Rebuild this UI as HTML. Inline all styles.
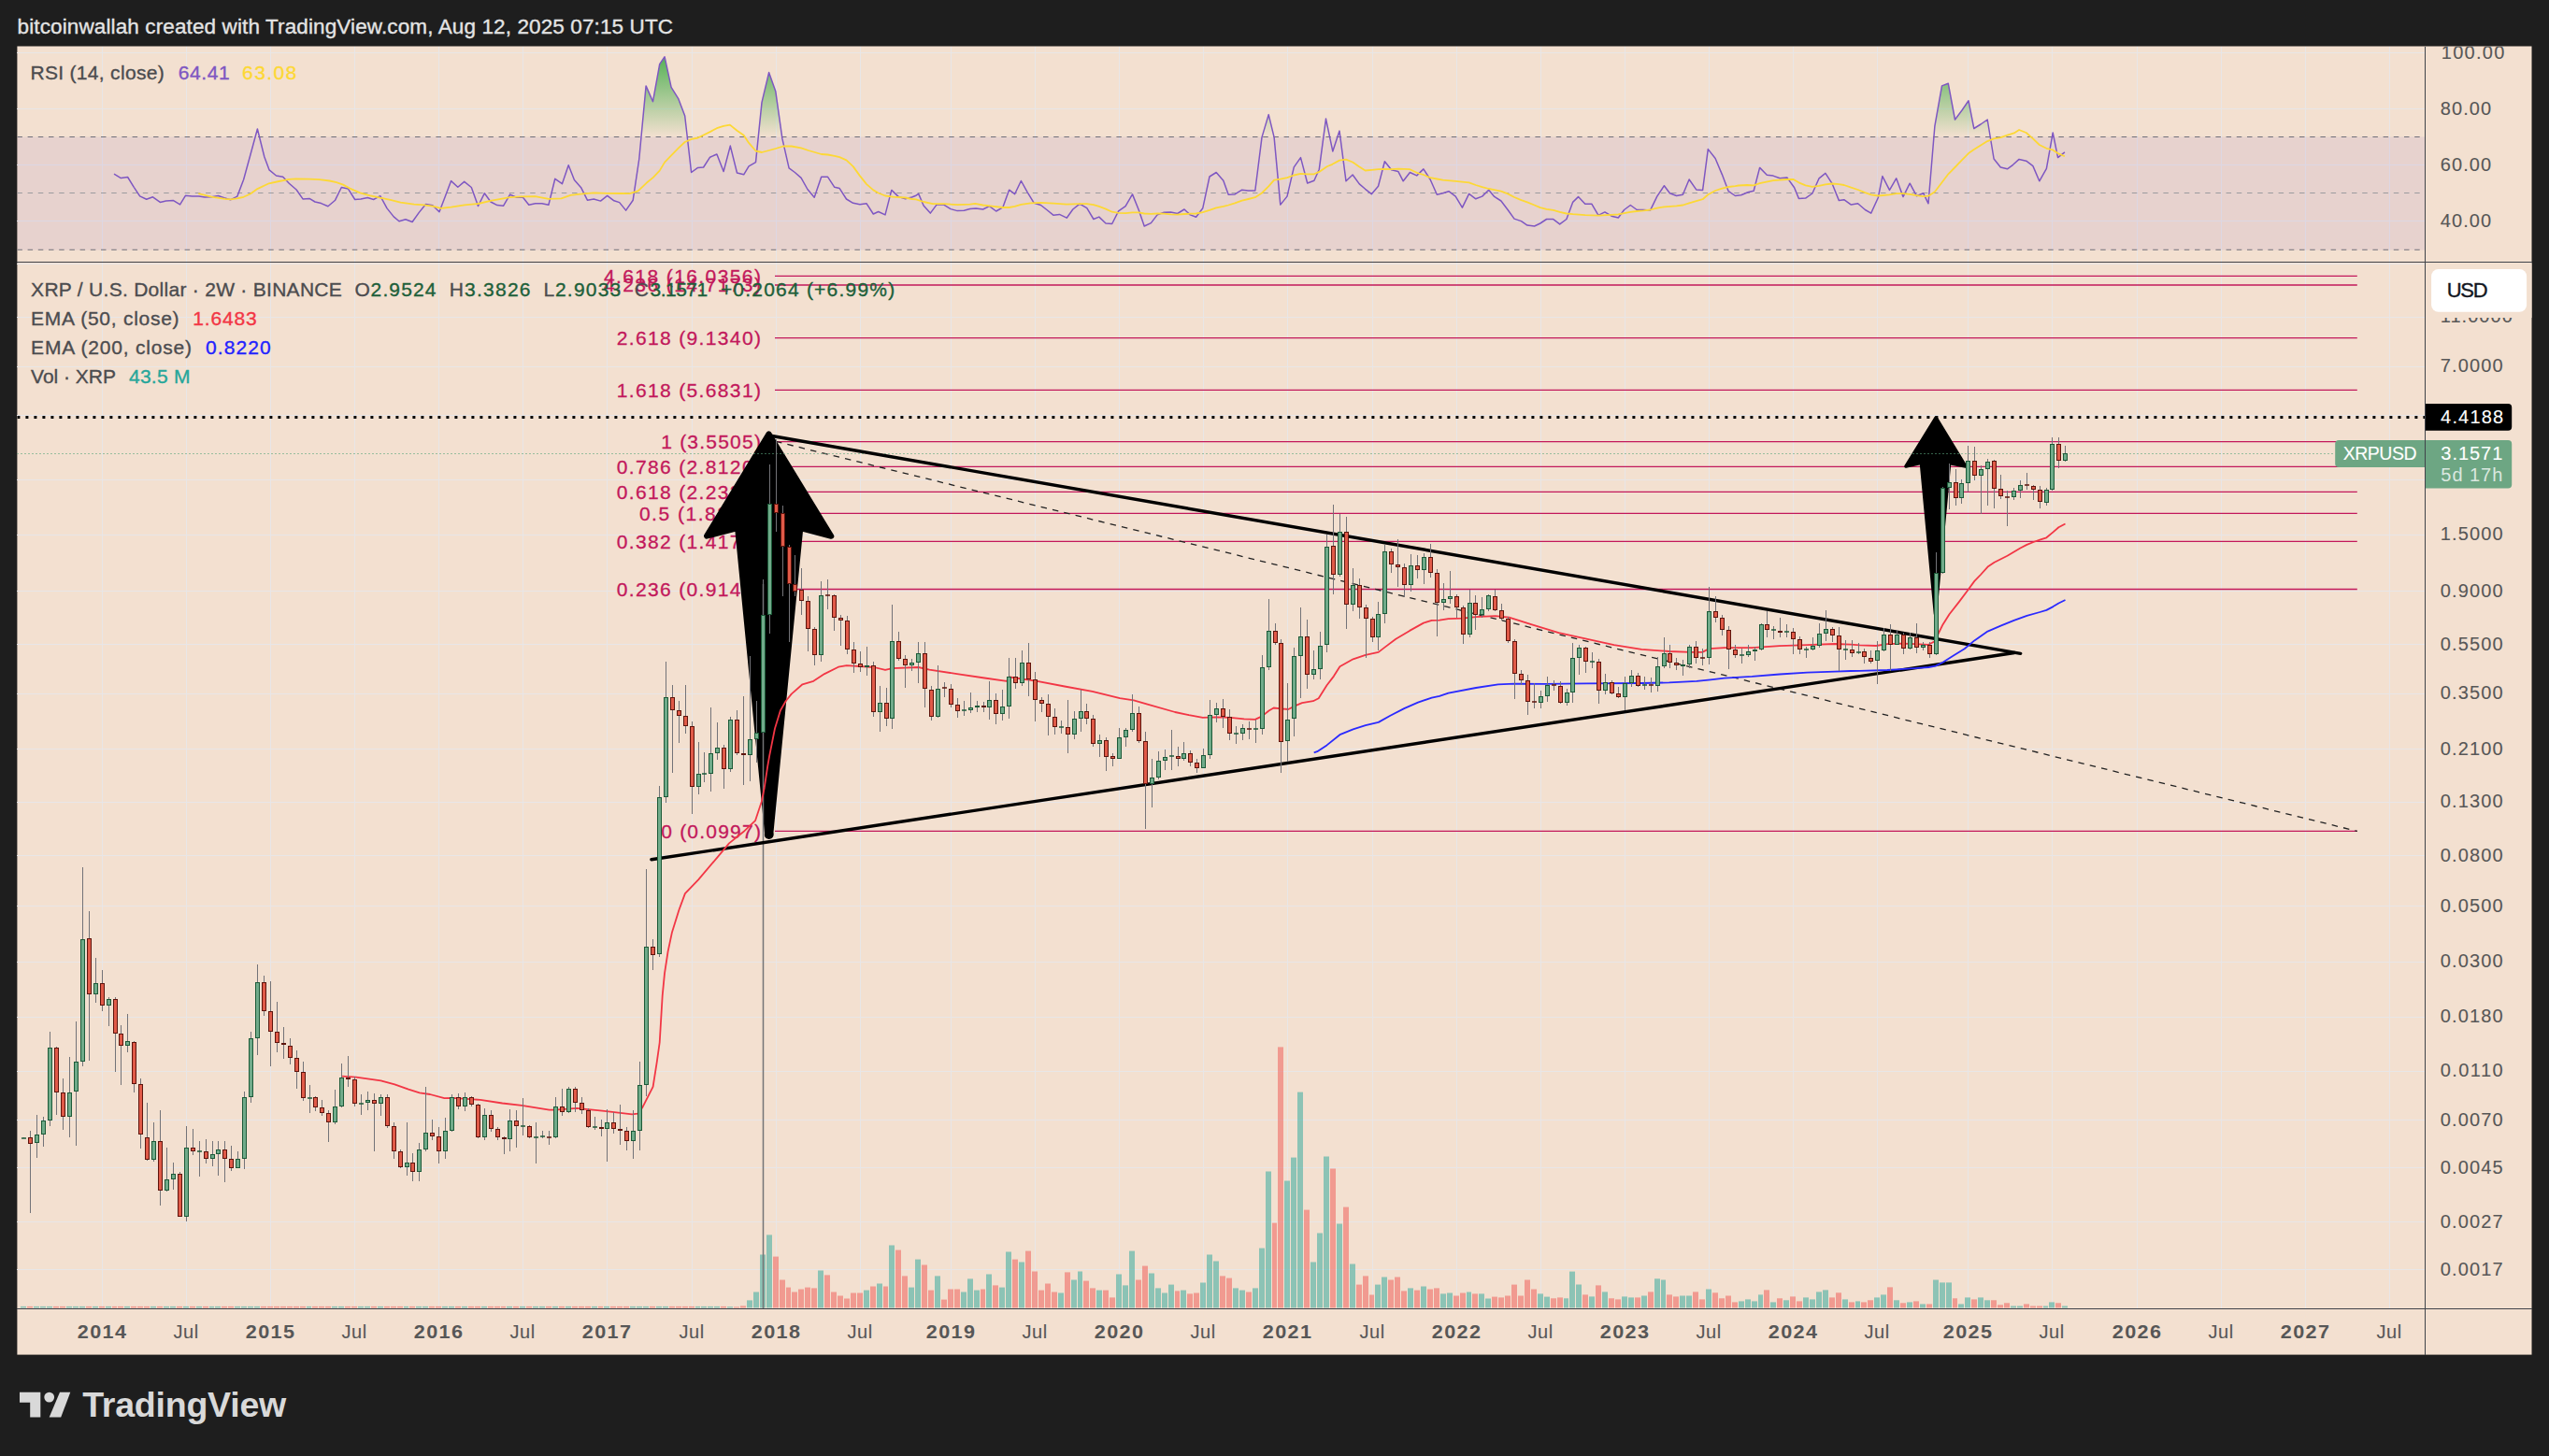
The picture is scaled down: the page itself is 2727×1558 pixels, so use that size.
<!DOCTYPE html>
<html lang="en"><head><meta charset="utf-8"><title>XRP / U.S. Dollar chart</title>
<style>html,body{margin:0;padding:0;background:#1e1e1e;}body{width:2727px;height:1558px;overflow:hidden;}</style></head>
<body>
<svg width="2727" height="1558" viewBox="0 0 2727 1558" style="display:block" font-family="'Liberation Sans', sans-serif">
<defs>
<clipPath id="cf"><rect x="18.4" y="49.5" width="2690.1" height="1400.1"/></clipPath>
<clipPath id="cr"><rect x="18.4" y="49.5" width="2576.1" height="231.0"/></clipPath>
<clipPath id="cm"><rect x="18.4" y="280.5" width="2576.1" height="1120.0"/></clipPath>
<clipPath id="c70"><rect x="18" y="49.5" width="2577" height="97"/></clipPath>
<linearGradient id="gg" gradientUnits="userSpaceOnUse" x1="0" y1="56" x2="0" y2="146.5"><stop offset="0" stop-color="#4caf50" stop-opacity="1"/><stop offset="1" stop-color="#4caf50" stop-opacity="0"/></linearGradient>
</defs>
<rect width="2727" height="1558" fill="#1e1e1e"/>
<rect x="18.4" y="49.5" width="2690.1" height="1400.1" fill="#f3e0d0"/>
<g stroke="#e8e6e7" stroke-width="1" shape-rendering="crispEdges">
<line x1="109.5" y1="49.5" x2="109.5" y2="1400.5"/>
<line x1="199.5" y1="49.5" x2="199.5" y2="1400.5"/>
<line x1="289.5" y1="49.5" x2="289.5" y2="1400.5"/>
<line x1="379.5" y1="49.5" x2="379.5" y2="1400.5"/>
<line x1="469.5" y1="49.5" x2="469.5" y2="1400.5"/>
<line x1="559.5" y1="49.5" x2="559.5" y2="1400.5"/>
<line x1="649.5" y1="49.5" x2="649.5" y2="1400.5"/>
<line x1="740.5" y1="49.5" x2="740.5" y2="1400.5"/>
<line x1="830.5" y1="49.5" x2="830.5" y2="1400.5"/>
<line x1="920.5" y1="49.5" x2="920.5" y2="1400.5"/>
<line x1="1017.5" y1="49.5" x2="1017.5" y2="1400.5"/>
<line x1="1107.5" y1="49.5" x2="1107.5" y2="1400.5"/>
<line x1="1197.5" y1="49.5" x2="1197.5" y2="1400.5"/>
<line x1="1287.5" y1="49.5" x2="1287.5" y2="1400.5"/>
<line x1="1377.5" y1="49.5" x2="1377.5" y2="1400.5"/>
<line x1="1468.5" y1="49.5" x2="1468.5" y2="1400.5"/>
<line x1="1558.5" y1="49.5" x2="1558.5" y2="1400.5"/>
<line x1="1648.5" y1="49.5" x2="1648.5" y2="1400.5"/>
<line x1="1738.5" y1="49.5" x2="1738.5" y2="1400.5"/>
<line x1="1828.5" y1="49.5" x2="1828.5" y2="1400.5"/>
<line x1="1918.5" y1="49.5" x2="1918.5" y2="1400.5"/>
<line x1="2008.5" y1="49.5" x2="2008.5" y2="1400.5"/>
<line x1="2105.5" y1="49.5" x2="2105.5" y2="1400.5"/>
<line x1="2195.5" y1="49.5" x2="2195.5" y2="1400.5"/>
<line x1="2286.5" y1="49.5" x2="2286.5" y2="1400.5"/>
<line x1="2376.5" y1="49.5" x2="2376.5" y2="1400.5"/>
<line x1="2466.5" y1="49.5" x2="2466.5" y2="1400.5"/>
<line x1="2556.5" y1="49.5" x2="2556.5" y2="1400.5"/>
<line x1="18.4" y1="56.4" x2="2594.5" y2="56.4"/>
<line x1="18.4" y1="116.5" x2="2594.5" y2="116.5"/>
<line x1="18.4" y1="176.4" x2="2594.5" y2="176.4"/>
<line x1="18.4" y1="236.3" x2="2594.5" y2="236.3"/>
<line x1="18.4" y1="282.3" x2="2594.5" y2="282.3"/>
<line x1="18.4" y1="339.4" x2="2594.5" y2="339.4"/>
<line x1="18.4" y1="392.4" x2="2594.5" y2="392.4"/>
<line x1="18.4" y1="444.7" x2="2594.5" y2="444.7"/>
<line x1="18.4" y1="513.4" x2="2594.5" y2="513.4"/>
<line x1="18.4" y1="572.1" x2="2594.5" y2="572.1"/>
<line x1="18.4" y1="632.5" x2="2594.5" y2="632.5"/>
<line x1="18.4" y1="689.4" x2="2594.5" y2="689.4"/>
<line x1="18.4" y1="742.1" x2="2594.5" y2="742.1"/>
<line x1="18.4" y1="801.7" x2="2594.5" y2="801.7"/>
<line x1="18.4" y1="858.1" x2="2594.5" y2="858.1"/>
<line x1="18.4" y1="915.4" x2="2594.5" y2="915.4"/>
<line x1="18.4" y1="969.4" x2="2594.5" y2="969.4"/>
<line x1="18.4" y1="1029.2" x2="2594.5" y2="1029.2"/>
<line x1="18.4" y1="1088.3" x2="2594.5" y2="1088.3"/>
<line x1="18.4" y1="1146.3" x2="2594.5" y2="1146.3"/>
<line x1="18.4" y1="1198.6" x2="2594.5" y2="1198.6"/>
<line x1="18.4" y1="1249.4" x2="2594.5" y2="1249.4"/>
<line x1="18.4" y1="1307.3" x2="2594.5" y2="1307.3"/>
<line x1="18.4" y1="1358.3" x2="2594.5" y2="1358.3"/>
</g>
<g clip-path="url(#cr)">
<rect x="18.4" y="146.5" width="2576.1" height="121" fill="#7e57c2" fill-opacity="0.1"/>
<polygon clip-path="url(#c70)" points="122.0,146.5 122.0,186.2 129.4,190.6 136.6,189.5 143.3,200.3 149.6,209.9 156.7,213.3 163.5,210.8 171.3,216.4 177.6,214.9 185.2,214.4 192.6,218.9 198.4,209.3 205.6,209.9 212.8,209.9 219.1,211.1 226.3,210.8 233.5,209.5 239.9,211.7 246.5,213.8 253.8,210.2 260.6,192.2 267.8,166.0 275.4,138.0 282.8,167.8 288.1,181.9 295.5,188.0 302.7,189.3 309.3,196.2 317.1,203.0 324.0,212.9 331.0,212.4 337.0,216.0 343.6,217.6 350.9,220.7 358.6,214.2 365.3,200.5 372.5,202.1 379.7,213.5 386.0,212.9 393.3,211.5 399.6,213.5 406.8,209.7 414.0,222.9 421.2,231.9 427.0,236.8 433.9,234.8 441.1,237.5 448.3,227.4 455.5,218.5 462.8,219.8 470.0,226.8 476.3,210.2 482.6,193.6 489.8,200.3 496.7,194.4 504.3,200.5 511.5,220.5 518.3,206.8 525.0,216.0 531.9,219.6 538.5,220.3 545.6,208.1 552.6,211.2 559.5,211.2 565.8,219.3 572.8,217.8 579.7,217.8 586.9,219.3 593.8,191.3 601.4,196.7 608.2,176.7 614.4,192.6 621.6,200.7 628.4,214.2 635.3,213.0 642.5,215.1 649.7,209.4 656.9,214.8 662.7,216.6 669.6,225.1 677.2,214.2 683.8,170.0 691.1,91.9 698.5,108.7 705.7,68.6 711.1,60.8 718.1,93.3 725.9,105.9 732.7,124.0 739.6,184.5 746.6,179.4 752.6,179.0 759.6,168.2 766.9,165.0 774.1,183.5 781.3,156.1 788.5,185.0 795.7,186.8 801.1,177.8 808.5,173.6 815.0,109.6 822.6,77.6 829.8,97.8 836.9,148.4 844.1,179.9 850.4,184.5 857.1,190.4 863.9,202.5 871.2,211.2 878.7,189.3 885.6,189.3 892.8,200.3 898.2,201.6 905.5,213.0 912.7,217.3 919.9,218.7 927.1,217.8 934.3,229.0 939.7,226.5 947.0,229.9 953.8,203.4 961.4,210.6 968.6,212.8 975.5,211.0 980.0,209.2 982.7,207.4 988.1,220.0 995.3,228.1 1002.0,219.1 1009.8,219.1 1017.0,223.6 1024.2,225.6 1031.4,225.2 1037.8,223.6 1044.1,223.1 1051.6,224.0 1058.5,220.6 1065.7,226.0 1072.9,221.8 1079.6,203.2 1085.6,207.7 1092.4,193.5 1099.1,205.6 1106.3,217.3 1113.5,219.5 1119.9,224.5 1127.1,230.3 1133.4,229.4 1141.2,233.2 1147.8,224.0 1155.1,218.2 1162.8,222.7 1169.9,234.5 1175.8,232.1 1183.0,239.0 1189.7,239.5 1196.6,225.8 1204.1,220.6 1211.5,207.9 1218.2,224.5 1224.2,242.0 1231.4,238.6 1238.1,229.9 1245.3,227.2 1252.5,226.9 1259.7,228.5 1267.0,224.0 1273.3,229.9 1279.6,232.3 1286.8,222.7 1294.0,189.0 1301.2,184.5 1308.8,193.3 1314.2,208.3 1321.1,207.9 1328.7,203.2 1335.5,204.0 1342.8,204.0 1350.0,146.9 1357.2,122.6 1363.1,146.9 1369.8,219.1 1377.0,210.1 1384.3,178.9 1391.5,168.6 1398.7,196.0 1405.9,193.3 1411.3,181.2 1418.5,127.1 1425.8,161.9 1433.0,140.1 1440.0,193.8 1447.1,187.0 1454.3,196.9 1460.6,202.3 1467.3,207.7 1474.5,199.3 1481.4,172.7 1488.6,181.8 1495.8,183.4 1501.2,193.8 1508.4,184.5 1515.7,187.9 1522.9,180.9 1530.1,192.0 1537.3,208.3 1543.6,206.8 1549.9,204.7 1557.2,210.1 1564.4,222.2 1571.6,207.4 1578.8,212.8 1585.7,210.1 1592.7,203.2 1598.7,210.4 1605.9,215.0 1613.1,224.5 1620.0,234.1 1627.5,236.6 1633.9,241.1 1641.6,242.0 1647.8,239.0 1654.6,234.5 1661.8,234.6 1668.7,239.9 1675.9,234.5 1682.6,216.4 1688.5,210.6 1695.8,218.2 1702.8,218.2 1710.0,230.3 1716.9,226.9 1724.1,231.2 1731.3,233.0 1737.6,224.5 1744.3,219.5 1751.2,224.5 1758.4,224.5 1765.6,224.9 1772.8,210.1 1780.4,198.7 1786.4,206.8 1793.6,209.5 1800.4,208.3 1807.1,192.0 1814.7,202.9 1821.6,203.4 1827.3,159.6 1835.1,169.5 1842.3,186.6 1849.2,204.7 1856.4,209.5 1862.7,208.8 1869.9,205.7 1876.2,204.3 1882.6,179.4 1890.3,187.2 1897.0,188.1 1904.2,190.8 1911.8,189.9 1919.6,200.7 1924.4,212.4 1931.6,212.1 1938.9,207.0 1946.1,190.8 1952.9,185.4 1960.2,196.7 1967.4,214.6 1972.8,213.7 1980.4,219.1 1987.6,217.8 1995.4,224.5 2001.7,228.1 2009.3,211.5 2013.9,188.6 2021.5,203.4 2028.7,190.8 2036.0,210.6 2043.2,196.2 2050.4,209.7 2057.6,206.7 2063.0,217.8 2069.9,134.8 2077.5,91.9 2084.3,89.3 2091.5,128.0 2098.8,118.2 2106.0,107.8 2111.8,137.5 2119.0,133.0 2126.2,128.0 2133.1,170.0 2140.3,179.0 2147.5,180.8 2153.6,176.3 2160.1,170.4 2167.7,172.2 2174.9,177.6 2181.8,193.8 2189.4,180.3 2196.2,142.0 2201.6,168.6 2208.9,162.8 2208.9,146.5" fill="url(#gg)"/>
<line x1="18.4" y1="146.5" x2="2594.5" y2="146.5" stroke="#70707a" stroke-width="1.1" stroke-dasharray="5.5 5.7"/>
<line x1="18.4" y1="206.5" x2="2594.5" y2="206.5" stroke="#9b9b9f" stroke-width="1.1" stroke-dasharray="5.5 5.7"/>
<line x1="18.4" y1="267.3" x2="2594.5" y2="267.3" stroke="#70707a" stroke-width="1.1" stroke-dasharray="5.5 5.7"/>
<polyline points="122.0,186.2 129.4,190.6 136.6,189.5 143.3,200.3 149.6,209.9 156.7,213.3 163.5,210.8 171.3,216.4 177.6,214.9 185.2,214.4 192.6,218.9 198.4,209.3 205.6,209.9 212.8,209.9 219.1,211.1 226.3,210.8 233.5,209.5 239.9,211.7 246.5,213.8 253.8,210.2 260.6,192.2 267.8,166.0 275.4,138.0 282.8,167.8 288.1,181.9 295.5,188.0 302.7,189.3 309.3,196.2 317.1,203.0 324.0,212.9 331.0,212.4 337.0,216.0 343.6,217.6 350.9,220.7 358.6,214.2 365.3,200.5 372.5,202.1 379.7,213.5 386.0,212.9 393.3,211.5 399.6,213.5 406.8,209.7 414.0,222.9 421.2,231.9 427.0,236.8 433.9,234.8 441.1,237.5 448.3,227.4 455.5,218.5 462.8,219.8 470.0,226.8 476.3,210.2 482.6,193.6 489.8,200.3 496.7,194.4 504.3,200.5 511.5,220.5 518.3,206.8 525.0,216.0 531.9,219.6 538.5,220.3 545.6,208.1 552.6,211.2 559.5,211.2 565.8,219.3 572.8,217.8 579.7,217.8 586.9,219.3 593.8,191.3 601.4,196.7 608.2,176.7 614.4,192.6 621.6,200.7 628.4,214.2 635.3,213.0 642.5,215.1 649.7,209.4 656.9,214.8 662.7,216.6 669.6,225.1 677.2,214.2 683.8,170.0 691.1,91.9 698.5,108.7 705.7,68.6 711.1,60.8 718.1,93.3 725.9,105.9 732.7,124.0 739.6,184.5 746.6,179.4 752.6,179.0 759.6,168.2 766.9,165.0 774.1,183.5 781.3,156.1 788.5,185.0 795.7,186.8 801.1,177.8 808.5,173.6 815.0,109.6 822.6,77.6 829.8,97.8 836.9,148.4 844.1,179.9 850.4,184.5 857.1,190.4 863.9,202.5 871.2,211.2 878.7,189.3 885.6,189.3 892.8,200.3 898.2,201.6 905.5,213.0 912.7,217.3 919.9,218.7 927.1,217.8 934.3,229.0 939.7,226.5 947.0,229.9 953.8,203.4 961.4,210.6 968.6,212.8 975.5,211.0 980.0,209.2 982.7,207.4 988.1,220.0 995.3,228.1 1002.0,219.1 1009.8,219.1 1017.0,223.6 1024.2,225.6 1031.4,225.2 1037.8,223.6 1044.1,223.1 1051.6,224.0 1058.5,220.6 1065.7,226.0 1072.9,221.8 1079.6,203.2 1085.6,207.7 1092.4,193.5 1099.1,205.6 1106.3,217.3 1113.5,219.5 1119.9,224.5 1127.1,230.3 1133.4,229.4 1141.2,233.2 1147.8,224.0 1155.1,218.2 1162.8,222.7 1169.9,234.5 1175.8,232.1 1183.0,239.0 1189.7,239.5 1196.6,225.8 1204.1,220.6 1211.5,207.9 1218.2,224.5 1224.2,242.0 1231.4,238.6 1238.1,229.9 1245.3,227.2 1252.5,226.9 1259.7,228.5 1267.0,224.0 1273.3,229.9 1279.6,232.3 1286.8,222.7 1294.0,189.0 1301.2,184.5 1308.8,193.3 1314.2,208.3 1321.1,207.9 1328.7,203.2 1335.5,204.0 1342.8,204.0 1350.0,146.9 1357.2,122.6 1363.1,146.9 1369.8,219.1 1377.0,210.1 1384.3,178.9 1391.5,168.6 1398.7,196.0 1405.9,193.3 1411.3,181.2 1418.5,127.1 1425.8,161.9 1433.0,140.1 1440.0,193.8 1447.1,187.0 1454.3,196.9 1460.6,202.3 1467.3,207.7 1474.5,199.3 1481.4,172.7 1488.6,181.8 1495.8,183.4 1501.2,193.8 1508.4,184.5 1515.7,187.9 1522.9,180.9 1530.1,192.0 1537.3,208.3 1543.6,206.8 1549.9,204.7 1557.2,210.1 1564.4,222.2 1571.6,207.4 1578.8,212.8 1585.7,210.1 1592.7,203.2 1598.7,210.4 1605.9,215.0 1613.1,224.5 1620.0,234.1 1627.5,236.6 1633.9,241.1 1641.6,242.0 1647.8,239.0 1654.6,234.5 1661.8,234.6 1668.7,239.9 1675.9,234.5 1682.6,216.4 1688.5,210.6 1695.8,218.2 1702.8,218.2 1710.0,230.3 1716.9,226.9 1724.1,231.2 1731.3,233.0 1737.6,224.5 1744.3,219.5 1751.2,224.5 1758.4,224.5 1765.6,224.9 1772.8,210.1 1780.4,198.7 1786.4,206.8 1793.6,209.5 1800.4,208.3 1807.1,192.0 1814.7,202.9 1821.6,203.4 1827.3,159.6 1835.1,169.5 1842.3,186.6 1849.2,204.7 1856.4,209.5 1862.7,208.8 1869.9,205.7 1876.2,204.3 1882.6,179.4 1890.3,187.2 1897.0,188.1 1904.2,190.8 1911.8,189.9 1919.6,200.7 1924.4,212.4 1931.6,212.1 1938.9,207.0 1946.1,190.8 1952.9,185.4 1960.2,196.7 1967.4,214.6 1972.8,213.7 1980.4,219.1 1987.6,217.8 1995.4,224.5 2001.7,228.1 2009.3,211.5 2013.9,188.6 2021.5,203.4 2028.7,190.8 2036.0,210.6 2043.2,196.2 2050.4,209.7 2057.6,206.7 2063.0,217.8 2069.9,134.8 2077.5,91.9 2084.3,89.3 2091.5,128.0 2098.8,118.2 2106.0,107.8 2111.8,137.5 2119.0,133.0 2126.2,128.0 2133.1,170.0 2140.3,179.0 2147.5,180.8 2153.6,176.3 2160.1,170.4 2167.7,172.2 2174.9,177.6 2181.8,193.8 2189.4,180.3 2196.2,142.0 2201.6,168.6 2208.9,162.8" fill="none" stroke="#7e57c2" stroke-width="1.5" stroke-linejoin="round"/>
<polyline points="212.3,207.2 226.3,210.6 240.8,212.8 247.1,213.3 253.4,212.4 260.6,210.8 267.8,207.5 275.4,202.1 287.7,196.3 298.5,194.0 309.3,191.8 316.6,191.3 331.0,191.6 341.8,192.2 352.7,193.5 359.9,195.1 367.1,197.6 374.3,201.6 385.1,206.3 396.0,209.3 406.8,211.7 417.6,213.8 428.5,216.6 442.9,218.7 453.7,219.3 462.8,220.7 471.8,222.9 482.6,221.6 497.0,219.3 511.5,218.0 525.9,214.7 538.5,212.4 545.4,211.2 558.0,210.3 572.5,210.1 586.9,212.8 600.5,212.4 610.4,208.8 621.2,207.6 635.3,206.3 649.7,206.8 664.5,207.0 673.5,207.2 682.6,204.3 691.6,195.8 698.8,189.9 705.7,182.6 711.1,173.6 718.1,166.4 725.9,158.3 732.7,152.0 739.8,148.9 746.6,147.5 759.6,141.1 766.9,137.2 774.1,134.8 780.9,133.6 788.5,139.7 795.7,144.7 801.1,152.9 808.5,161.5 815.0,163.0 822.6,161.0 829.8,159.0 837.8,156.5 846.8,156.5 857.1,158.3 864.9,161.0 878.7,165.0 885.6,165.5 892.8,166.8 898.2,168.2 905.5,171.3 912.7,178.1 919.9,188.1 927.1,197.1 934.3,203.4 939.7,206.5 947.0,209.5 955.1,210.6 968.6,211.5 975.5,213.0 980.0,213.3 988.1,216.0 998.0,218.2 1009.8,218.2 1024.2,219.1 1037.8,218.6 1043.2,217.8 1051.6,219.5 1061.2,220.6 1072.9,222.0 1079.6,222.0 1085.6,220.9 1092.4,218.8 1102.7,217.3 1113.5,216.9 1127.1,217.7 1141.2,218.6 1155.1,218.2 1162.8,218.2 1169.9,219.1 1175.8,220.9 1183.0,223.6 1189.7,226.7 1196.6,227.8 1204.1,228.1 1211.5,227.4 1218.2,227.4 1224.2,228.5 1231.4,228.9 1238.1,228.5 1245.3,228.7 1252.5,229.4 1259.7,229.6 1267.0,229.0 1273.3,228.7 1279.6,228.5 1286.8,227.2 1294.0,224.9 1301.2,222.4 1308.8,220.9 1314.2,219.5 1321.1,217.3 1328.7,214.6 1335.5,213.0 1342.8,211.2 1350.0,206.5 1357.2,199.3 1363.1,192.6 1369.8,191.7 1377.0,190.2 1384.3,187.5 1391.5,185.9 1398.7,186.4 1405.9,186.3 1411.3,183.9 1418.5,178.9 1420.0,178.0 1425.4,175.8 1433.0,171.6 1440.0,170.7 1447.1,173.5 1454.3,178.5 1460.6,182.5 1467.3,181.8 1474.5,181.2 1481.4,180.9 1488.6,181.2 1495.8,180.7 1508.4,181.2 1515.7,184.8 1522.9,187.0 1530.1,190.2 1537.3,191.5 1543.6,192.6 1557.2,193.8 1571.6,195.3 1578.8,198.0 1585.7,200.2 1592.7,202.0 1598.7,203.2 1605.9,204.7 1613.1,207.4 1620.0,211.0 1627.5,214.2 1633.9,216.4 1641.6,219.5 1647.8,222.2 1654.6,223.8 1661.8,224.9 1668.7,226.9 1675.9,228.5 1682.6,229.2 1695.8,230.1 1710.0,230.7 1724.1,229.9 1731.3,229.4 1737.6,228.1 1744.3,226.9 1751.2,226.0 1758.4,225.4 1765.6,224.5 1772.8,222.7 1780.4,221.3 1793.6,220.4 1800.4,219.5 1807.1,217.3 1814.7,215.1 1821.6,213.2 1827.3,208.3 1835.1,204.0 1842.3,201.6 1849.2,200.0 1856.4,199.1 1860.0,198.5 1869.0,198.0 1876.2,198.3 1882.6,196.2 1897.0,193.1 1911.8,192.0 1918.7,192.0 1924.4,195.3 1931.6,198.3 1938.9,199.8 1946.1,198.9 1952.9,197.4 1960.2,196.5 1967.4,197.1 1972.8,198.0 1980.4,200.7 1987.6,203.0 1995.4,206.1 2001.7,208.3 2009.3,209.5 2021.5,208.3 2028.7,207.2 2036.0,207.2 2043.2,207.9 2050.4,209.2 2057.6,210.1 2063.0,209.7 2069.9,205.2 2077.5,195.3 2084.3,186.3 2091.5,179.0 2098.8,171.3 2106.0,164.1 2111.8,160.1 2119.0,155.6 2126.2,151.1 2133.1,148.4 2140.3,147.1 2147.5,144.7 2154.7,142.4 2160.1,139.0 2167.7,142.0 2174.9,148.4 2181.8,155.0 2189.4,158.8 2196.2,160.4 2201.6,164.1 2208.9,167.3" fill="none" stroke="#fdd835" stroke-width="1.8" stroke-linejoin="round"/>
</g>
<g clip-path="url(#cm)">
<rect x="22.0" y="1397.9" width="6" height="1.6" fill="#26a69a" fill-opacity="0.5"/>
<rect x="29.0" y="1397.9" width="6" height="1.6" fill="#ef5350" fill-opacity="0.5"/>
<rect x="36.0" y="1397.9" width="6" height="1.6" fill="#26a69a" fill-opacity="0.5"/>
<rect x="43.0" y="1397.9" width="6" height="1.6" fill="#26a69a" fill-opacity="0.5"/>
<rect x="50.0" y="1397.9" width="6" height="1.6" fill="#26a69a" fill-opacity="0.5"/>
<rect x="57.0" y="1397.9" width="6" height="1.6" fill="#ef5350" fill-opacity="0.5"/>
<rect x="64.0" y="1397.9" width="6" height="1.6" fill="#ef5350" fill-opacity="0.5"/>
<rect x="71.0" y="1397.9" width="6" height="1.6" fill="#26a69a" fill-opacity="0.5"/>
<rect x="78.0" y="1397.9" width="6" height="1.6" fill="#26a69a" fill-opacity="0.5"/>
<rect x="85.0" y="1397.9" width="6" height="1.6" fill="#26a69a" fill-opacity="0.5"/>
<rect x="92.0" y="1397.9" width="6" height="1.6" fill="#ef5350" fill-opacity="0.5"/>
<rect x="99.0" y="1397.9" width="6" height="1.6" fill="#26a69a" fill-opacity="0.5"/>
<rect x="106.0" y="1397.9" width="6" height="1.6" fill="#ef5350" fill-opacity="0.5"/>
<rect x="113.0" y="1397.9" width="6" height="1.6" fill="#26a69a" fill-opacity="0.5"/>
<rect x="120.0" y="1397.9" width="5" height="1.6" fill="#ef5350" fill-opacity="0.5"/>
<rect x="126.0" y="1397.9" width="6" height="1.6" fill="#ef5350" fill-opacity="0.5"/>
<rect x="133.0" y="1397.9" width="6" height="1.6" fill="#26a69a" fill-opacity="0.5"/>
<rect x="140.0" y="1397.9" width="6" height="1.6" fill="#ef5350" fill-opacity="0.5"/>
<rect x="147.0" y="1397.9" width="6" height="1.6" fill="#ef5350" fill-opacity="0.5"/>
<rect x="154.0" y="1397.9" width="6" height="1.6" fill="#ef5350" fill-opacity="0.5"/>
<rect x="161.0" y="1397.9" width="6" height="1.6" fill="#26a69a" fill-opacity="0.5"/>
<rect x="168.0" y="1397.9" width="6" height="1.6" fill="#ef5350" fill-opacity="0.5"/>
<rect x="175.0" y="1397.9" width="6" height="1.6" fill="#26a69a" fill-opacity="0.5"/>
<rect x="182.0" y="1397.9" width="6" height="1.6" fill="#26a69a" fill-opacity="0.5"/>
<rect x="189.0" y="1397.9" width="6" height="1.6" fill="#ef5350" fill-opacity="0.5"/>
<rect x="196.0" y="1397.9" width="6" height="1.6" fill="#26a69a" fill-opacity="0.5"/>
<rect x="203.0" y="1397.9" width="6" height="1.6" fill="#ef5350" fill-opacity="0.5"/>
<rect x="210.0" y="1397.9" width="6" height="1.6" fill="#26a69a" fill-opacity="0.5"/>
<rect x="217.0" y="1397.9" width="6" height="1.6" fill="#ef5350" fill-opacity="0.5"/>
<rect x="224.0" y="1397.9" width="5" height="1.6" fill="#26a69a" fill-opacity="0.5"/>
<rect x="230.0" y="1397.9" width="6" height="1.6" fill="#26a69a" fill-opacity="0.5"/>
<rect x="237.0" y="1397.9" width="6" height="1.6" fill="#ef5350" fill-opacity="0.5"/>
<rect x="244.0" y="1397.9" width="6" height="1.6" fill="#ef5350" fill-opacity="0.5"/>
<rect x="251.0" y="1397.9" width="6" height="1.6" fill="#26a69a" fill-opacity="0.5"/>
<rect x="258.0" y="1397.9" width="6" height="1.6" fill="#26a69a" fill-opacity="0.5"/>
<rect x="265.0" y="1397.9" width="6" height="1.6" fill="#26a69a" fill-opacity="0.5"/>
<rect x="272.0" y="1397.9" width="6" height="1.6" fill="#26a69a" fill-opacity="0.5"/>
<rect x="279.0" y="1397.9" width="6" height="1.6" fill="#ef5350" fill-opacity="0.5"/>
<rect x="286.0" y="1397.9" width="6" height="1.6" fill="#ef5350" fill-opacity="0.5"/>
<rect x="293.0" y="1397.9" width="6" height="1.6" fill="#ef5350" fill-opacity="0.5"/>
<rect x="300.0" y="1397.9" width="6" height="1.6" fill="#ef5350" fill-opacity="0.5"/>
<rect x="307.0" y="1397.9" width="6" height="1.6" fill="#ef5350" fill-opacity="0.5"/>
<rect x="314.0" y="1397.9" width="6" height="1.6" fill="#ef5350" fill-opacity="0.5"/>
<rect x="321.0" y="1397.9" width="6" height="1.6" fill="#ef5350" fill-opacity="0.5"/>
<rect x="328.0" y="1397.9" width="5" height="1.6" fill="#26a69a" fill-opacity="0.5"/>
<rect x="334.0" y="1397.9" width="6" height="1.6" fill="#ef5350" fill-opacity="0.5"/>
<rect x="341.0" y="1397.9" width="6" height="1.6" fill="#ef5350" fill-opacity="0.5"/>
<rect x="348.0" y="1397.9" width="6" height="1.6" fill="#ef5350" fill-opacity="0.5"/>
<rect x="355.0" y="1397.9" width="6" height="1.6" fill="#26a69a" fill-opacity="0.5"/>
<rect x="362.0" y="1397.9" width="6" height="1.6" fill="#26a69a" fill-opacity="0.5"/>
<rect x="369.0" y="1397.9" width="6" height="1.6" fill="#ef5350" fill-opacity="0.5"/>
<rect x="376.0" y="1397.9" width="6" height="1.6" fill="#ef5350" fill-opacity="0.5"/>
<rect x="383.0" y="1397.9" width="6" height="1.6" fill="#26a69a" fill-opacity="0.5"/>
<rect x="390.0" y="1397.9" width="6" height="1.6" fill="#26a69a" fill-opacity="0.5"/>
<rect x="397.0" y="1397.9" width="6" height="1.6" fill="#ef5350" fill-opacity="0.5"/>
<rect x="404.0" y="1397.9" width="6" height="1.6" fill="#26a69a" fill-opacity="0.5"/>
<rect x="411.0" y="1397.9" width="6" height="1.6" fill="#ef5350" fill-opacity="0.5"/>
<rect x="418.0" y="1397.9" width="6" height="1.6" fill="#ef5350" fill-opacity="0.5"/>
<rect x="425.0" y="1397.9" width="6" height="1.6" fill="#ef5350" fill-opacity="0.5"/>
<rect x="432.0" y="1397.9" width="5" height="1.6" fill="#26a69a" fill-opacity="0.5"/>
<rect x="438.0" y="1397.9" width="6" height="1.6" fill="#ef5350" fill-opacity="0.5"/>
<rect x="445.0" y="1397.9" width="6" height="1.6" fill="#26a69a" fill-opacity="0.5"/>
<rect x="452.0" y="1397.9" width="6" height="1.6" fill="#26a69a" fill-opacity="0.5"/>
<rect x="459.0" y="1397.9" width="6" height="1.6" fill="#ef5350" fill-opacity="0.5"/>
<rect x="466.0" y="1397.9" width="6" height="1.6" fill="#ef5350" fill-opacity="0.5"/>
<rect x="473.0" y="1397.9" width="6" height="1.6" fill="#26a69a" fill-opacity="0.5"/>
<rect x="480.0" y="1397.9" width="6" height="1.6" fill="#26a69a" fill-opacity="0.5"/>
<rect x="487.0" y="1397.9" width="6" height="1.6" fill="#ef5350" fill-opacity="0.5"/>
<rect x="494.0" y="1397.9" width="6" height="1.6" fill="#26a69a" fill-opacity="0.5"/>
<rect x="501.0" y="1397.9" width="6" height="1.6" fill="#ef5350" fill-opacity="0.5"/>
<rect x="508.0" y="1397.9" width="6" height="1.6" fill="#ef5350" fill-opacity="0.5"/>
<rect x="515.0" y="1397.9" width="6" height="1.6" fill="#26a69a" fill-opacity="0.5"/>
<rect x="522.0" y="1397.9" width="6" height="1.6" fill="#ef5350" fill-opacity="0.5"/>
<rect x="529.0" y="1397.9" width="6" height="1.6" fill="#ef5350" fill-opacity="0.5"/>
<rect x="536.0" y="1397.9" width="5" height="1.6" fill="#ef5350" fill-opacity="0.5"/>
<rect x="542.0" y="1397.9" width="6" height="1.6" fill="#26a69a" fill-opacity="0.5"/>
<rect x="549.0" y="1397.9" width="6" height="1.6" fill="#ef5350" fill-opacity="0.5"/>
<rect x="556.0" y="1397.9" width="6" height="1.6" fill="#26a69a" fill-opacity="0.5"/>
<rect x="563.0" y="1397.9" width="6" height="1.6" fill="#ef5350" fill-opacity="0.5"/>
<rect x="570.0" y="1397.9" width="6" height="1.6" fill="#26a69a" fill-opacity="0.5"/>
<rect x="577.0" y="1397.9" width="6" height="1.6" fill="#26a69a" fill-opacity="0.5"/>
<rect x="584.0" y="1397.9" width="6" height="1.6" fill="#ef5350" fill-opacity="0.5"/>
<rect x="591.0" y="1397.9" width="6" height="1.6" fill="#26a69a" fill-opacity="0.5"/>
<rect x="598.0" y="1397.9" width="6" height="1.6" fill="#ef5350" fill-opacity="0.5"/>
<rect x="605.0" y="1397.9" width="6" height="1.6" fill="#26a69a" fill-opacity="0.5"/>
<rect x="612.0" y="1397.9" width="6" height="1.6" fill="#ef5350" fill-opacity="0.5"/>
<rect x="619.0" y="1397.9" width="6" height="1.6" fill="#ef5350" fill-opacity="0.5"/>
<rect x="626.0" y="1397.9" width="6" height="1.6" fill="#ef5350" fill-opacity="0.5"/>
<rect x="633.0" y="1397.9" width="6" height="1.6" fill="#26a69a" fill-opacity="0.5"/>
<rect x="640.0" y="1397.9" width="5" height="1.6" fill="#ef5350" fill-opacity="0.5"/>
<rect x="646.0" y="1397.9" width="6" height="1.6" fill="#26a69a" fill-opacity="0.5"/>
<rect x="653.0" y="1397.9" width="6" height="1.6" fill="#ef5350" fill-opacity="0.5"/>
<rect x="660.0" y="1397.9" width="6" height="1.6" fill="#ef5350" fill-opacity="0.5"/>
<rect x="667.0" y="1397.9" width="6" height="1.6" fill="#ef5350" fill-opacity="0.5"/>
<rect x="674.0" y="1397.9" width="6" height="1.6" fill="#26a69a" fill-opacity="0.5"/>
<rect x="681.0" y="1397.9" width="6" height="1.6" fill="#26a69a" fill-opacity="0.5"/>
<rect x="688.0" y="1397.9" width="6" height="1.6" fill="#26a69a" fill-opacity="0.5"/>
<rect x="695.0" y="1397.9" width="6" height="1.6" fill="#ef5350" fill-opacity="0.5"/>
<rect x="702.0" y="1397.9" width="6" height="1.6" fill="#26a69a" fill-opacity="0.5"/>
<rect x="709.0" y="1397.9" width="6" height="1.6" fill="#26a69a" fill-opacity="0.5"/>
<rect x="716.0" y="1397.9" width="6" height="1.6" fill="#ef5350" fill-opacity="0.5"/>
<rect x="723.0" y="1397.9" width="6" height="1.6" fill="#ef5350" fill-opacity="0.5"/>
<rect x="730.0" y="1397.9" width="6" height="1.6" fill="#ef5350" fill-opacity="0.5"/>
<rect x="737.0" y="1397.9" width="6" height="1.6" fill="#ef5350" fill-opacity="0.5"/>
<rect x="744.0" y="1397.9" width="5" height="1.6" fill="#26a69a" fill-opacity="0.5"/>
<rect x="750.0" y="1397.9" width="6" height="1.6" fill="#26a69a" fill-opacity="0.5"/>
<rect x="757.0" y="1397.9" width="6" height="1.6" fill="#26a69a" fill-opacity="0.5"/>
<rect x="764.0" y="1397.9" width="6" height="1.6" fill="#26a69a" fill-opacity="0.5"/>
<rect x="771.0" y="1397.9" width="6" height="1.6" fill="#ef5350" fill-opacity="0.5"/>
<rect x="778.0" y="1398.2" width="6" height="1.3" fill="#26a69a" fill-opacity="0.5"/>
<rect x="785.0" y="1398.4" width="6" height="1.1" fill="#ef5350" fill-opacity="0.5"/>
<rect x="792.0" y="1397.4" width="6" height="2.1" fill="#ef5350" fill-opacity="0.5"/>
<rect x="799.0" y="1391.4" width="6" height="8.1" fill="#26a69a" fill-opacity="0.5"/>
<rect x="806.0" y="1382.5" width="6" height="17.0" fill="#26a69a" fill-opacity="0.5"/>
<rect x="813.0" y="1342.5" width="6" height="57.0" fill="#26a69a" fill-opacity="0.5"/>
<rect x="820.0" y="1321.4" width="6" height="78.1" fill="#26a69a" fill-opacity="0.5"/>
<rect x="827.0" y="1344.6" width="6" height="54.9" fill="#ef5350" fill-opacity="0.5"/>
<rect x="834.0" y="1369.5" width="6" height="30.0" fill="#ef5350" fill-opacity="0.5"/>
<rect x="841.0" y="1377.6" width="5" height="21.9" fill="#ef5350" fill-opacity="0.5"/>
<rect x="847.0" y="1382.5" width="6" height="17.0" fill="#ef5350" fill-opacity="0.5"/>
<rect x="854.0" y="1379.5" width="6" height="20.0" fill="#ef5350" fill-opacity="0.5"/>
<rect x="861.0" y="1377.6" width="6" height="21.9" fill="#ef5350" fill-opacity="0.5"/>
<rect x="868.0" y="1378.4" width="6" height="21.1" fill="#ef5350" fill-opacity="0.5"/>
<rect x="875.0" y="1359.5" width="6" height="40.0" fill="#26a69a" fill-opacity="0.5"/>
<rect x="882.0" y="1364.4" width="6" height="35.1" fill="#ef5350" fill-opacity="0.5"/>
<rect x="889.0" y="1382.5" width="6" height="17.0" fill="#ef5350" fill-opacity="0.5"/>
<rect x="896.0" y="1386.5" width="6" height="13.0" fill="#ef5350" fill-opacity="0.5"/>
<rect x="903.0" y="1389.5" width="6" height="10.0" fill="#ef5350" fill-opacity="0.5"/>
<rect x="910.0" y="1383.5" width="6" height="16.0" fill="#ef5350" fill-opacity="0.5"/>
<rect x="917.0" y="1383.5" width="6" height="16.0" fill="#ef5350" fill-opacity="0.5"/>
<rect x="924.0" y="1380.6" width="6" height="18.9" fill="#26a69a" fill-opacity="0.5"/>
<rect x="931.0" y="1376.5" width="6" height="23.0" fill="#ef5350" fill-opacity="0.5"/>
<rect x="938.0" y="1373.5" width="6" height="26.0" fill="#26a69a" fill-opacity="0.5"/>
<rect x="945.0" y="1376.5" width="5" height="23.0" fill="#ef5350" fill-opacity="0.5"/>
<rect x="951.0" y="1332.5" width="6" height="67.0" fill="#26a69a" fill-opacity="0.5"/>
<rect x="958.0" y="1337.6" width="6" height="61.9" fill="#ef5350" fill-opacity="0.5"/>
<rect x="965.0" y="1365.4" width="6" height="34.1" fill="#ef5350" fill-opacity="0.5"/>
<rect x="972.0" y="1377.6" width="6" height="21.9" fill="#26a69a" fill-opacity="0.5"/>
<rect x="979.0" y="1347.6" width="6" height="51.9" fill="#26a69a" fill-opacity="0.5"/>
<rect x="986.0" y="1353.5" width="6" height="46.0" fill="#ef5350" fill-opacity="0.5"/>
<rect x="993.0" y="1380.6" width="6" height="18.9" fill="#ef5350" fill-opacity="0.5"/>
<rect x="1000.0" y="1365.4" width="6" height="34.1" fill="#26a69a" fill-opacity="0.5"/>
<rect x="1007.0" y="1390.6" width="6" height="8.9" fill="#ef5350" fill-opacity="0.5"/>
<rect x="1014.0" y="1379.5" width="6" height="20.0" fill="#ef5350" fill-opacity="0.5"/>
<rect x="1021.0" y="1379.5" width="6" height="20.0" fill="#ef5350" fill-opacity="0.5"/>
<rect x="1028.0" y="1382.5" width="6" height="17.0" fill="#26a69a" fill-opacity="0.5"/>
<rect x="1035.0" y="1368.4" width="6" height="31.1" fill="#26a69a" fill-opacity="0.5"/>
<rect x="1042.0" y="1380.6" width="6" height="18.9" fill="#26a69a" fill-opacity="0.5"/>
<rect x="1049.0" y="1379.5" width="5" height="20.0" fill="#ef5350" fill-opacity="0.5"/>
<rect x="1055.0" y="1363.5" width="6" height="36.0" fill="#26a69a" fill-opacity="0.5"/>
<rect x="1062.0" y="1375.4" width="6" height="24.1" fill="#ef5350" fill-opacity="0.5"/>
<rect x="1069.0" y="1377.6" width="6" height="21.9" fill="#26a69a" fill-opacity="0.5"/>
<rect x="1076.0" y="1339.5" width="6" height="60.0" fill="#26a69a" fill-opacity="0.5"/>
<rect x="1083.0" y="1347.6" width="6" height="51.9" fill="#ef5350" fill-opacity="0.5"/>
<rect x="1090.0" y="1350.5" width="6" height="49.0" fill="#26a69a" fill-opacity="0.5"/>
<rect x="1097.0" y="1338.6" width="6" height="60.9" fill="#ef5350" fill-opacity="0.5"/>
<rect x="1104.0" y="1360.5" width="6" height="39.0" fill="#ef5350" fill-opacity="0.5"/>
<rect x="1111.0" y="1380.6" width="6" height="18.9" fill="#ef5350" fill-opacity="0.5"/>
<rect x="1118.0" y="1373.5" width="6" height="26.0" fill="#ef5350" fill-opacity="0.5"/>
<rect x="1125.0" y="1382.5" width="6" height="17.0" fill="#ef5350" fill-opacity="0.5"/>
<rect x="1132.0" y="1383.5" width="6" height="16.0" fill="#26a69a" fill-opacity="0.5"/>
<rect x="1139.0" y="1361.4" width="6" height="38.1" fill="#ef5350" fill-opacity="0.5"/>
<rect x="1146.0" y="1369.5" width="6" height="30.0" fill="#26a69a" fill-opacity="0.5"/>
<rect x="1153.0" y="1360.5" width="5" height="39.0" fill="#26a69a" fill-opacity="0.5"/>
<rect x="1159.0" y="1370.6" width="6" height="28.9" fill="#ef5350" fill-opacity="0.5"/>
<rect x="1166.0" y="1378.4" width="6" height="21.1" fill="#ef5350" fill-opacity="0.5"/>
<rect x="1173.0" y="1380.6" width="6" height="18.9" fill="#26a69a" fill-opacity="0.5"/>
<rect x="1180.0" y="1380.6" width="6" height="18.9" fill="#ef5350" fill-opacity="0.5"/>
<rect x="1187.0" y="1388.4" width="6" height="11.1" fill="#ef5350" fill-opacity="0.5"/>
<rect x="1194.0" y="1363.5" width="6" height="36.0" fill="#26a69a" fill-opacity="0.5"/>
<rect x="1201.0" y="1375.4" width="6" height="24.1" fill="#26a69a" fill-opacity="0.5"/>
<rect x="1208.0" y="1338.6" width="6" height="60.9" fill="#26a69a" fill-opacity="0.5"/>
<rect x="1215.0" y="1369.5" width="6" height="30.0" fill="#ef5350" fill-opacity="0.5"/>
<rect x="1222.0" y="1354.6" width="6" height="44.9" fill="#ef5350" fill-opacity="0.5"/>
<rect x="1229.0" y="1362.5" width="6" height="37.0" fill="#26a69a" fill-opacity="0.5"/>
<rect x="1236.0" y="1378.4" width="6" height="21.1" fill="#26a69a" fill-opacity="0.5"/>
<rect x="1243.0" y="1383.5" width="6" height="16.0" fill="#26a69a" fill-opacity="0.5"/>
<rect x="1250.0" y="1374.6" width="6" height="24.9" fill="#26a69a" fill-opacity="0.5"/>
<rect x="1257.0" y="1381.4" width="5" height="18.1" fill="#ef5350" fill-opacity="0.5"/>
<rect x="1263.0" y="1380.6" width="6" height="18.9" fill="#26a69a" fill-opacity="0.5"/>
<rect x="1270.0" y="1384.4" width="6" height="15.1" fill="#ef5350" fill-opacity="0.5"/>
<rect x="1277.0" y="1383.5" width="6" height="16.0" fill="#ef5350" fill-opacity="0.5"/>
<rect x="1284.0" y="1372.5" width="6" height="27.0" fill="#26a69a" fill-opacity="0.5"/>
<rect x="1291.0" y="1342.5" width="6" height="57.0" fill="#26a69a" fill-opacity="0.5"/>
<rect x="1298.0" y="1349.5" width="6" height="50.0" fill="#26a69a" fill-opacity="0.5"/>
<rect x="1305.0" y="1365.4" width="6" height="34.1" fill="#ef5350" fill-opacity="0.5"/>
<rect x="1312.0" y="1367.6" width="6" height="31.9" fill="#ef5350" fill-opacity="0.5"/>
<rect x="1319.0" y="1378.4" width="6" height="21.1" fill="#26a69a" fill-opacity="0.5"/>
<rect x="1326.0" y="1380.6" width="6" height="18.9" fill="#26a69a" fill-opacity="0.5"/>
<rect x="1333.0" y="1382.5" width="6" height="17.0" fill="#ef5350" fill-opacity="0.5"/>
<rect x="1340.0" y="1378.4" width="6" height="21.1" fill="#26a69a" fill-opacity="0.5"/>
<rect x="1347.0" y="1335.6" width="6" height="63.9" fill="#26a69a" fill-opacity="0.5"/>
<rect x="1354.0" y="1253.5" width="6" height="146.0" fill="#26a69a" fill-opacity="0.5"/>
<rect x="1361.0" y="1308.6" width="5" height="90.9" fill="#ef5350" fill-opacity="0.5"/>
<rect x="1367.0" y="1120.4" width="6" height="279.1" fill="#ef5350" fill-opacity="0.5"/>
<rect x="1374.0" y="1263.5" width="6" height="136.0" fill="#26a69a" fill-opacity="0.5"/>
<rect x="1381.0" y="1238.6" width="6" height="160.9" fill="#26a69a" fill-opacity="0.5"/>
<rect x="1388.0" y="1168.6" width="6" height="230.9" fill="#26a69a" fill-opacity="0.5"/>
<rect x="1395.0" y="1294.6" width="6" height="104.9" fill="#ef5350" fill-opacity="0.5"/>
<rect x="1402.0" y="1350.5" width="6" height="49.0" fill="#26a69a" fill-opacity="0.5"/>
<rect x="1409.0" y="1319.5" width="6" height="80.0" fill="#26a69a" fill-opacity="0.5"/>
<rect x="1416.0" y="1237.5" width="6" height="162.0" fill="#26a69a" fill-opacity="0.5"/>
<rect x="1423.0" y="1250.5" width="6" height="149.0" fill="#ef5350" fill-opacity="0.5"/>
<rect x="1430.0" y="1309.5" width="6" height="90.0" fill="#26a69a" fill-opacity="0.5"/>
<rect x="1437.0" y="1291.6" width="6" height="107.9" fill="#ef5350" fill-opacity="0.5"/>
<rect x="1444.0" y="1352.5" width="6" height="47.0" fill="#26a69a" fill-opacity="0.5"/>
<rect x="1451.0" y="1374.6" width="6" height="24.9" fill="#ef5350" fill-opacity="0.5"/>
<rect x="1458.0" y="1365.4" width="6" height="34.1" fill="#ef5350" fill-opacity="0.5"/>
<rect x="1465.0" y="1385.5" width="5" height="14.0" fill="#ef5350" fill-opacity="0.5"/>
<rect x="1471.0" y="1374.6" width="6" height="24.9" fill="#26a69a" fill-opacity="0.5"/>
<rect x="1478.0" y="1366.5" width="6" height="33.0" fill="#26a69a" fill-opacity="0.5"/>
<rect x="1485.0" y="1369.5" width="6" height="30.0" fill="#ef5350" fill-opacity="0.5"/>
<rect x="1492.0" y="1366.5" width="6" height="33.0" fill="#ef5350" fill-opacity="0.5"/>
<rect x="1499.0" y="1381.4" width="6" height="18.1" fill="#ef5350" fill-opacity="0.5"/>
<rect x="1506.0" y="1378.4" width="6" height="21.1" fill="#26a69a" fill-opacity="0.5"/>
<rect x="1513.0" y="1380.6" width="6" height="18.9" fill="#ef5350" fill-opacity="0.5"/>
<rect x="1520.0" y="1376.5" width="6" height="23.0" fill="#26a69a" fill-opacity="0.5"/>
<rect x="1527.0" y="1379.5" width="6" height="20.0" fill="#ef5350" fill-opacity="0.5"/>
<rect x="1534.0" y="1378.4" width="6" height="21.1" fill="#ef5350" fill-opacity="0.5"/>
<rect x="1541.0" y="1384.4" width="6" height="15.1" fill="#26a69a" fill-opacity="0.5"/>
<rect x="1548.0" y="1383.5" width="6" height="16.0" fill="#26a69a" fill-opacity="0.5"/>
<rect x="1555.0" y="1386.5" width="6" height="13.0" fill="#ef5350" fill-opacity="0.5"/>
<rect x="1562.0" y="1383.5" width="6" height="16.0" fill="#ef5350" fill-opacity="0.5"/>
<rect x="1569.0" y="1382.5" width="5" height="17.0" fill="#26a69a" fill-opacity="0.5"/>
<rect x="1575.0" y="1384.4" width="6" height="15.1" fill="#ef5350" fill-opacity="0.5"/>
<rect x="1582.0" y="1384.4" width="6" height="15.1" fill="#26a69a" fill-opacity="0.5"/>
<rect x="1589.0" y="1389.5" width="6" height="10.0" fill="#26a69a" fill-opacity="0.5"/>
<rect x="1596.0" y="1387.6" width="6" height="11.9" fill="#ef5350" fill-opacity="0.5"/>
<rect x="1603.0" y="1388.4" width="6" height="11.1" fill="#ef5350" fill-opacity="0.5"/>
<rect x="1610.0" y="1386.5" width="6" height="13.0" fill="#ef5350" fill-opacity="0.5"/>
<rect x="1617.0" y="1374.6" width="6" height="24.9" fill="#ef5350" fill-opacity="0.5"/>
<rect x="1624.0" y="1386.5" width="6" height="13.0" fill="#ef5350" fill-opacity="0.5"/>
<rect x="1631.0" y="1369.5" width="6" height="30.0" fill="#ef5350" fill-opacity="0.5"/>
<rect x="1638.0" y="1379.5" width="6" height="20.0" fill="#ef5350" fill-opacity="0.5"/>
<rect x="1645.0" y="1384.4" width="6" height="15.1" fill="#26a69a" fill-opacity="0.5"/>
<rect x="1652.0" y="1387.6" width="6" height="11.9" fill="#26a69a" fill-opacity="0.5"/>
<rect x="1659.0" y="1389.3" width="6" height="10.2" fill="#ef5350" fill-opacity="0.5"/>
<rect x="1666.0" y="1388.4" width="6" height="11.1" fill="#ef5350" fill-opacity="0.5"/>
<rect x="1673.0" y="1389.3" width="5" height="10.2" fill="#26a69a" fill-opacity="0.5"/>
<rect x="1679.0" y="1360.6" width="6" height="38.9" fill="#26a69a" fill-opacity="0.5"/>
<rect x="1686.0" y="1374.5" width="6" height="25.0" fill="#26a69a" fill-opacity="0.5"/>
<rect x="1693.0" y="1385.4" width="6" height="14.1" fill="#ef5350" fill-opacity="0.5"/>
<rect x="1700.0" y="1387.4" width="6" height="12.1" fill="#26a69a" fill-opacity="0.5"/>
<rect x="1707.0" y="1375.4" width="6" height="24.1" fill="#ef5350" fill-opacity="0.5"/>
<rect x="1714.0" y="1382.4" width="6" height="17.1" fill="#26a69a" fill-opacity="0.5"/>
<rect x="1721.0" y="1389.3" width="6" height="10.2" fill="#ef5350" fill-opacity="0.5"/>
<rect x="1728.0" y="1390.4" width="6" height="9.1" fill="#ef5350" fill-opacity="0.5"/>
<rect x="1735.0" y="1387.4" width="6" height="12.1" fill="#26a69a" fill-opacity="0.5"/>
<rect x="1742.0" y="1388.4" width="6" height="11.1" fill="#26a69a" fill-opacity="0.5"/>
<rect x="1749.0" y="1388.4" width="6" height="11.1" fill="#ef5350" fill-opacity="0.5"/>
<rect x="1756.0" y="1386.5" width="6" height="13.0" fill="#26a69a" fill-opacity="0.5"/>
<rect x="1763.0" y="1382.4" width="6" height="17.1" fill="#ef5350" fill-opacity="0.5"/>
<rect x="1770.0" y="1368.3" width="6" height="31.2" fill="#26a69a" fill-opacity="0.5"/>
<rect x="1777.0" y="1369.5" width="5" height="30.0" fill="#26a69a" fill-opacity="0.5"/>
<rect x="1783.0" y="1385.4" width="6" height="14.1" fill="#ef5350" fill-opacity="0.5"/>
<rect x="1790.0" y="1387.4" width="6" height="12.1" fill="#ef5350" fill-opacity="0.5"/>
<rect x="1797.0" y="1386.5" width="6" height="13.0" fill="#26a69a" fill-opacity="0.5"/>
<rect x="1804.0" y="1386.5" width="6" height="13.0" fill="#26a69a" fill-opacity="0.5"/>
<rect x="1811.0" y="1382.4" width="6" height="17.1" fill="#ef5350" fill-opacity="0.5"/>
<rect x="1818.0" y="1390.4" width="6" height="9.1" fill="#ef5350" fill-opacity="0.5"/>
<rect x="1825.0" y="1379.5" width="6" height="20.0" fill="#26a69a" fill-opacity="0.5"/>
<rect x="1832.0" y="1383.3" width="6" height="16.2" fill="#ef5350" fill-opacity="0.5"/>
<rect x="1839.0" y="1389.3" width="6" height="10.2" fill="#ef5350" fill-opacity="0.5"/>
<rect x="1846.0" y="1386.5" width="6" height="13.0" fill="#ef5350" fill-opacity="0.5"/>
<rect x="1853.0" y="1393.4" width="6" height="6.1" fill="#ef5350" fill-opacity="0.5"/>
<rect x="1860.0" y="1392.4" width="6" height="7.1" fill="#26a69a" fill-opacity="0.5"/>
<rect x="1867.0" y="1390.4" width="6" height="9.1" fill="#26a69a" fill-opacity="0.5"/>
<rect x="1874.0" y="1392.4" width="6" height="7.1" fill="#26a69a" fill-opacity="0.5"/>
<rect x="1881.0" y="1385.4" width="5" height="14.1" fill="#26a69a" fill-opacity="0.5"/>
<rect x="1887.0" y="1380.4" width="6" height="19.1" fill="#ef5350" fill-opacity="0.5"/>
<rect x="1894.0" y="1393.4" width="6" height="6.1" fill="#26a69a" fill-opacity="0.5"/>
<rect x="1901.0" y="1389.3" width="6" height="10.2" fill="#ef5350" fill-opacity="0.5"/>
<rect x="1908.0" y="1391.3" width="6" height="8.2" fill="#26a69a" fill-opacity="0.5"/>
<rect x="1915.0" y="1387.4" width="6" height="12.1" fill="#ef5350" fill-opacity="0.5"/>
<rect x="1922.0" y="1392.4" width="6" height="7.1" fill="#ef5350" fill-opacity="0.5"/>
<rect x="1929.0" y="1388.4" width="6" height="11.1" fill="#26a69a" fill-opacity="0.5"/>
<rect x="1936.0" y="1390.4" width="6" height="9.1" fill="#26a69a" fill-opacity="0.5"/>
<rect x="1943.0" y="1382.4" width="6" height="17.1" fill="#26a69a" fill-opacity="0.5"/>
<rect x="1950.0" y="1380.4" width="6" height="19.1" fill="#26a69a" fill-opacity="0.5"/>
<rect x="1957.0" y="1388.4" width="6" height="11.1" fill="#ef5350" fill-opacity="0.5"/>
<rect x="1964.0" y="1383.3" width="6" height="16.2" fill="#ef5350" fill-opacity="0.5"/>
<rect x="1971.0" y="1390.4" width="6" height="9.1" fill="#26a69a" fill-opacity="0.5"/>
<rect x="1978.0" y="1393.4" width="6" height="6.1" fill="#ef5350" fill-opacity="0.5"/>
<rect x="1985.0" y="1392.4" width="5" height="7.1" fill="#26a69a" fill-opacity="0.5"/>
<rect x="1991.0" y="1393.4" width="6" height="6.1" fill="#ef5350" fill-opacity="0.5"/>
<rect x="1998.0" y="1391.3" width="6" height="8.2" fill="#ef5350" fill-opacity="0.5"/>
<rect x="2005.0" y="1388.4" width="6" height="11.1" fill="#26a69a" fill-opacity="0.5"/>
<rect x="2012.0" y="1385.4" width="6" height="14.1" fill="#26a69a" fill-opacity="0.5"/>
<rect x="2019.0" y="1377.4" width="6" height="22.1" fill="#ef5350" fill-opacity="0.5"/>
<rect x="2026.0" y="1391.3" width="6" height="8.2" fill="#26a69a" fill-opacity="0.5"/>
<rect x="2033.0" y="1394.3" width="6" height="5.2" fill="#ef5350" fill-opacity="0.5"/>
<rect x="2040.0" y="1393.4" width="6" height="6.1" fill="#26a69a" fill-opacity="0.5"/>
<rect x="2047.0" y="1392.4" width="6" height="7.1" fill="#ef5350" fill-opacity="0.5"/>
<rect x="2054.0" y="1395.4" width="6" height="4.1" fill="#26a69a" fill-opacity="0.5"/>
<rect x="2061.0" y="1395.4" width="6" height="4.1" fill="#ef5350" fill-opacity="0.5"/>
<rect x="2068.0" y="1369.5" width="6" height="30.0" fill="#26a69a" fill-opacity="0.5"/>
<rect x="2075.0" y="1372.4" width="6" height="27.1" fill="#26a69a" fill-opacity="0.5"/>
<rect x="2082.0" y="1372.4" width="6" height="27.1" fill="#26a69a" fill-opacity="0.5"/>
<rect x="2089.0" y="1389.3" width="5" height="10.2" fill="#ef5350" fill-opacity="0.5"/>
<rect x="2095.0" y="1395.4" width="6" height="4.1" fill="#26a69a" fill-opacity="0.5"/>
<rect x="2102.0" y="1388.4" width="6" height="11.1" fill="#26a69a" fill-opacity="0.5"/>
<rect x="2109.0" y="1390.4" width="6" height="9.1" fill="#ef5350" fill-opacity="0.5"/>
<rect x="2116.0" y="1388.4" width="6" height="11.1" fill="#26a69a" fill-opacity="0.5"/>
<rect x="2123.0" y="1391.3" width="6" height="8.2" fill="#26a69a" fill-opacity="0.5"/>
<rect x="2130.0" y="1391.3" width="6" height="8.2" fill="#ef5350" fill-opacity="0.5"/>
<rect x="2137.0" y="1396.3" width="6" height="3.2" fill="#ef5350" fill-opacity="0.5"/>
<rect x="2144.0" y="1394.3" width="6" height="5.2" fill="#ef5350" fill-opacity="0.5"/>
<rect x="2151.0" y="1397.5" width="6" height="2.0" fill="#26a69a" fill-opacity="0.5"/>
<rect x="2158.0" y="1397.5" width="6" height="2.0" fill="#26a69a" fill-opacity="0.5"/>
<rect x="2165.0" y="1395.4" width="6" height="4.1" fill="#ef5350" fill-opacity="0.5"/>
<rect x="2172.0" y="1397.5" width="6" height="2.0" fill="#ef5350" fill-opacity="0.5"/>
<rect x="2179.0" y="1397.5" width="6" height="2.0" fill="#ef5350" fill-opacity="0.5"/>
<rect x="2186.0" y="1397.5" width="5" height="2.0" fill="#26a69a" fill-opacity="0.5"/>
<rect x="2192.0" y="1393.4" width="6" height="6.1" fill="#26a69a" fill-opacity="0.5"/>
<rect x="2199.0" y="1394.3" width="6" height="5.2" fill="#ef5350" fill-opacity="0.5"/>
<rect x="2206.0" y="1397.5" width="6" height="2.0" fill="#26a69a" fill-opacity="0.5"/>
<line x1="829" y1="295.4" x2="2521.8" y2="295.4" stroke="#c2185b" stroke-width="1.3"/>
<text x="645.9" y="302.8" font-size="21" fill="#c2185b" stroke="#c2185b" stroke-width="0.3" textLength="168" lengthAdjust="spacing">4.618 (16.0356)</text>
<line x1="829" y1="305" x2="2521.8" y2="305" stroke="#c2185b" stroke-width="1.3"/>
<text x="645.9" y="312.4" font-size="21" fill="#c2185b" stroke="#c2185b" stroke-width="0.3" textLength="168" lengthAdjust="spacing">4.236 (14.7173)</text>
<line x1="829" y1="361.6" x2="2521.8" y2="361.6" stroke="#c2185b" stroke-width="1.3"/>
<text x="659.8" y="369.0" font-size="21" fill="#c2185b" stroke="#c2185b" stroke-width="0.3" textLength="154.1" lengthAdjust="spacing">2.618 (9.1340)</text>
<line x1="829" y1="417.4" x2="2521.8" y2="417.4" stroke="#c2185b" stroke-width="1.3"/>
<text x="659.8" y="424.8" font-size="21" fill="#c2185b" stroke="#c2185b" stroke-width="0.3" textLength="154.1" lengthAdjust="spacing">1.618 (5.6831)</text>
<line x1="829" y1="472.6" x2="2521.8" y2="472.6" stroke="#c2185b" stroke-width="1.3"/>
<text x="707.2" y="480.0" font-size="21" fill="#c2185b" stroke="#c2185b" stroke-width="0.3" textLength="106.7" lengthAdjust="spacing">1 (3.5505)</text>
<line x1="829" y1="499.3" x2="2521.8" y2="499.3" stroke="#c2185b" stroke-width="1.3"/>
<text x="659.8" y="506.7" font-size="21" fill="#c2185b" stroke="#c2185b" stroke-width="0.3" textLength="154.1" lengthAdjust="spacing">0.786 (2.8120)</text>
<line x1="829" y1="526.3" x2="2521.8" y2="526.3" stroke="#c2185b" stroke-width="1.3"/>
<text x="659.8" y="533.7" font-size="21" fill="#c2185b" stroke="#c2185b" stroke-width="0.3" textLength="154.1" lengthAdjust="spacing">0.618 (2.2323)</text>
<line x1="829" y1="549.4" x2="2521.8" y2="549.4" stroke="#c2185b" stroke-width="1.3"/>
<text x="683.9" y="556.8" font-size="21" fill="#c2185b" stroke="#c2185b" stroke-width="0.3" textLength="130" lengthAdjust="spacing">0.5 (1.8251)</text>
<line x1="829" y1="579.3" x2="2521.8" y2="579.3" stroke="#c2185b" stroke-width="1.3"/>
<text x="659.8" y="586.7" font-size="21" fill="#c2185b" stroke="#c2185b" stroke-width="0.3" textLength="154.1" lengthAdjust="spacing">0.382 (1.4179)</text>
<line x1="829" y1="630.5" x2="2521.8" y2="630.5" stroke="#c2185b" stroke-width="1.3"/>
<text x="659.8" y="637.9" font-size="21" fill="#c2185b" stroke="#c2185b" stroke-width="0.3" textLength="154.1" lengthAdjust="spacing">0.236 (0.9141)</text>
<line x1="829" y1="889.4" x2="2521.8" y2="889.4" stroke="#c2185b" stroke-width="1.3"/>
<text x="707.2" y="896.8" font-size="21" fill="#c2185b" stroke="#c2185b" stroke-width="0.3" textLength="106.7" lengthAdjust="spacing">0 (0.0997)</text>
<line x1="830" y1="472.4" x2="2521.8" y2="889.4" stroke="#222" stroke-width="1.3" stroke-dasharray="6.5 6.2"/>
<line x1="18.4" y1="446.5" x2="2594.5" y2="446.5" stroke="#000" stroke-width="3" stroke-dasharray="3 6"/>
<polygon points="822.5,464.3 889.3,573.8 856.3,565.2 824.2,893.5 821.2,893.5 789.1,565.2 756.0,573.6" fill="#000" stroke="#000" stroke-width="6" stroke-linejoin="round"/>
<circle cx="822.7" cy="893" r="4.9" fill="#000"/>
<polygon points="2071.1,447.0 2102.8,499.0 2085.6,495.6 2070.5,657.0 2055.4,495.4 2039.0,499.0" fill="#000" stroke="#000" stroke-width="3.5" stroke-linejoin="round"/>
<line x1="18.4" y1="485.5" x2="2498" y2="485.5" stroke="#5aa57d" stroke-width="1.2" stroke-dasharray="1.2 2.8"/>
<line x1="816.5" y1="625" x2="816.5" y2="1400" stroke="#747476" stroke-width="1.5"/>
<line x1="823" y1="466" x2="2161.7" y2="699.3" stroke="#000" stroke-width="3.4" stroke-linecap="round"/>
<line x1="696.9" y1="919.8" x2="2155" y2="698.5" stroke="#000" stroke-width="3.4" stroke-linecap="round"/>
<polyline points="1405.7,805.4 1409.2,804.2 1419.5,797.4 1433.4,786.2 1447.6,780.3 1460.9,776.1 1474.7,772.9 1487.4,765.8 1502.2,758.1 1517.0,751.6 1531.7,746.6 1540.0,744.8 1549.5,741.6 1579.0,736.0 1602.7,732.4 1620.4,731.6 1652.9,731.8 1697.1,731.3 1756.2,731.0 1785.7,730.4 1815.2,728.9 1830.0,727.4 1844.8,725.6 1874.3,723.9 1903.8,721.5 1933.3,719.7 1962.9,718.6 1980.0,718.0 1989.5,717.9 2019.0,717.0 2048.6,715.2 2063.3,714.0 2070.7,712.6 2078.1,709.0 2089.9,701.6 2101.7,694.2 2112.3,685.4 2126.5,675.6 2140.4,669.7 2154.6,663.8 2168.4,658.8 2182.3,655.0 2189.4,652.9 2196.5,649.1 2202.4,645.5 2209.5,642.0" fill="none" stroke="#2a2aff" stroke-width="1.8" stroke-linejoin="round"/>
<polyline points="366.1,1151.6 380.9,1152.7 407.4,1156.3 422.2,1160.4 437.0,1165.7 448.8,1169.3 460.0,1171.0 475.4,1175.2 484.3,1174.9 513.8,1176.9 537.4,1180.5 558.1,1182.8 587.6,1187.6 593.5,1187.6 617.1,1185.8 646.7,1188.8 676.2,1192.3 682.1,1191.7 687.4,1184.9 698.6,1162.8 702.8,1136.2 705.7,1115.5 708.7,1065.3 711.0,1041.7 714.6,1018.1 719.0,997.4 726.4,973.8 732.9,956.1 747.1,941.3 767.7,917.1 780.0,902.4 795.1,890.3 808.0,878.2 814.8,857.8 817.8,842.7 821.2,820.0 823.1,809.1 829.0,779.5 834.9,760.3 840.8,750.0 846.7,742.6 858.5,732.3 870.3,728.8 882.1,721.1 896.9,713.7 905.7,712.2 935.2,714.0 947.1,716.9 954.4,715.2 982.5,714.0 994.3,716.6 1023.8,721.1 1053.3,725.5 1077.0,728.8 1080.0,724.5 1109.5,728.9 1139.0,734.5 1168.6,739.8 1198.1,747.2 1212.9,749.3 1227.6,753.7 1257.1,762.0 1271.9,765.2 1286.7,767.9 1301.4,767.3 1316.2,767.9 1331.0,769.3 1342.8,769.9 1350.2,766.4 1357.5,760.5 1362.6,757.5 1370.8,758.4 1378.2,759.0 1387.1,754.6 1393.0,752.2 1404.8,750.2 1410.7,747.2 1419.5,733.3 1426.9,723.6 1433.4,713.2 1447.6,705.3 1460.9,700.8 1474.7,697.9 1481.5,692.6 1493.3,683.7 1508.1,674.9 1522.9,666.6 1531.7,663.9 1540.0,663.6 1549.5,662.2 1564.3,661.6 1579.0,660.1 1599.7,659.2 1614.5,660.7 1638.1,668.1 1667.6,677.2 1697.1,683.7 1726.7,690.2 1756.2,694.9 1785.7,697.0 1809.3,697.9 1821.2,697.9 1828.5,694.1 1844.8,693.2 1874.3,693.2 1903.8,691.1 1933.3,690.2 1962.9,689.0 1980.0,689.6 1989.5,690.4 2007.2,691.0 2019.0,689.2 2036.8,688.6 2048.6,689.2 2063.3,689.8 2069.8,686.3 2073.7,678.0 2078.1,669.1 2085.5,657.3 2095.8,644.1 2104.7,632.2 2112.3,621.9 2119.4,614.5 2126.5,606.6 2133.6,601.8 2147.5,594.7 2161.4,586.5 2168.4,582.9 2175.5,580.0 2182.3,577.6 2189.4,575.3 2196.5,569.4 2202.4,564.3 2209.5,560.5" fill="none" stroke="#f23645" stroke-width="1.8" stroke-linejoin="round"/>
<path d="M25.5 1217V1218M32.5 1210V1298M39.5 1193V1239M46.5 1195V1227M53.5 1104V1205M60.5 1120V1193M67.5 1154V1209M74.5 1131V1217M81.5 1093V1226M88.5 928V1141M95.5 975V1135M102.5 1025V1073M109.5 1038V1082M116.5 1067V1098M123.5 1067V1147M129.5 1097V1161M136.5 1085V1126M143.5 1114V1169M150.5 1154V1229M157.5 1180V1242M164.5 1201V1243M171.5 1188V1290M178.5 1228V1275M185.5 1244V1273M192.5 1254V1302M199.5 1205V1307M206.5 1208V1236M213.5 1221V1259M220.5 1219V1245M227.5 1221V1248M233.5 1221V1258M240.5 1221V1265M247.5 1226V1253M254.5 1232V1250M261.5 1168V1251M268.5 1104V1180M275.5 1032V1129M282.5 1044V1087M289.5 1050V1141M296.5 1072V1126M303.5 1099V1133M310.5 1111V1139M317.5 1124V1165M324.5 1136V1178M331.5 1161V1191M337.5 1173V1189M344.5 1177V1194M351.5 1188V1222M358.5 1166V1203M365.5 1138V1185M372.5 1130V1163M379.5 1152V1184M386.5 1171V1193M393.5 1168V1188M400.5 1170V1232M407.5 1171V1194M414.5 1171V1207M421.5 1201V1240M428.5 1230V1250M435.5 1201V1258M441.5 1234V1264M448.5 1223V1264M455.5 1163V1232M462.5 1198V1220M469.5 1206V1245M476.5 1196V1240M483.5 1171V1211M490.5 1170V1187M497.5 1169V1189M504.5 1173V1184M511.5 1181V1218M518.5 1186V1220M525.5 1188V1211M532.5 1206V1220M539.5 1216V1235M545.5 1187V1232M552.5 1188V1228M559.5 1175V1215M566.5 1204V1218M573.5 1201V1245M580.5 1210V1218M587.5 1210V1225M594.5 1174V1218M601.5 1165V1194M608.5 1163V1191M615.5 1163V1190M622.5 1174V1192M629.5 1186V1207M636.5 1195V1209M643.5 1198V1216M649.5 1187V1243M656.5 1190V1213M663.5 1182V1225M670.5 1206V1231M677.5 1188V1240M684.5 1136V1231M691.5 930V1173M698.5 1005V1038M705.5 841V1024M712.5 708V859M719.5 733V827M726.5 750V795M733.5 733V785M740.5 772V871M747.5 794V850M753.5 805V837M760.5 757V847M767.5 773V813M774.5 797V844M781.5 767V826M788.5 760V808M795.5 745V840M802.5 702V836M809.5 750V816M816.5 620V787M823.5 497V678M830.5 470V569M837.5 541V638M844.5 583V687M850.5 594V638M857.5 608V658M864.5 638V697M871.5 671V712M878.5 622V708M885.5 620V652M892.5 636V675M899.5 658V691M906.5 659V700M913.5 687V720M920.5 697V719M927.5 692V723M934.5 708V767M941.5 734V783M948.5 736V777M954.5 647V780M961.5 676V707M968.5 701V736M975.5 705V718M982.5 687V731M989.5 687V757M996.5 734V771M1003.5 712V768M1010.5 730V746M1017.5 732V757M1024.5 747V768M1031.5 750V766M1038.5 741V763M1045.5 750V762M1052.5 751V762M1058.5 729V770M1065.5 742V775M1072.5 738V771M1079.5 704V769M1086.5 704V737M1093.5 696V734M1100.5 688V745M1107.5 719V772M1114.5 746V762M1121.5 743V787M1128.5 758V786M1135.5 771V785M1142.5 749V806M1149.5 761V791M1156.5 738V783M1162.5 753V775M1169.5 765V799M1176.5 786V810M1183.5 789V825M1190.5 806V820M1197.5 779V812M1204.5 779V799M1211.5 743V783M1218.5 756V795M1225.5 783V887M1232.5 812V864M1239.5 804V834M1246.5 802V824M1253.5 781V824M1260.5 799V820M1266.5 794V814M1273.5 803V820M1280.5 812V827M1287.5 801V822M1294.5 749V812M1301.5 752V773M1308.5 748V779M1315.5 759V792M1322.5 777V796M1329.5 775V792M1336.5 772V791M1343.5 770V795M1350.5 701V786M1357.5 641V717M1364.5 667V690M1370.5 684V827M1377.5 731V815M1384.5 693V788M1391.5 650V747M1398.5 663V737M1405.5 696V727M1412.5 676V727M1419.5 572V698M1426.5 540V636M1433.5 550V617M1440.5 553V673M1447.5 608V654M1454.5 619V662M1461.5 647V704M1468.5 660V687M1474.5 644V696M1481.5 583V667M1488.5 587V613M1495.5 577V628M1502.5 603V639M1509.5 593V633M1516.5 594V619M1523.5 592V625M1530.5 582V618M1537.5 609V681M1544.5 624V653M1551.5 611V646M1558.5 636V661M1565.5 648V689M1572.5 631V682M1578.5 637V674M1585.5 639V661M1592.5 636V654M1599.5 631V654M1606.5 646V664M1613.5 660V688M1620.5 684V748M1627.5 717V733M1634.5 722V765M1641.5 731V758M1648.5 739V758M1655.5 724V751M1662.5 728V739M1669.5 729V753M1676.5 737V755M1682.5 688V752M1689.5 690V722M1696.5 692V720M1703.5 698V715M1710.5 705V753M1717.5 721V743M1724.5 728V743M1731.5 735V747M1738.5 724V760M1745.5 717V735M1752.5 720V735M1759.5 724V738M1766.5 725V741M1773.5 703V740M1780.5 682V715M1786.5 690V715M1793.5 704V717M1800.5 706V723M1807.5 690V715M1814.5 686V710M1821.5 694V712M1828.5 628V711M1835.5 638V666M1842.5 658V680M1849.5 670V716M1856.5 690V704M1863.5 694V710M1870.5 690V703M1877.5 692V707M1884.5 667V696M1890.5 654V682M1897.5 670V684M1904.5 661V682M1911.5 668V682M1918.5 672V700M1925.5 681V700M1932.5 692V704M1939.5 682V696M1946.5 667V693M1953.5 653V686M1960.5 671V687M1967.5 671V718M1974.5 685V706M1981.5 685V703M1988.5 688V700M1994.5 694V710M2001.5 696V710M2008.5 686V732M2015.5 672V697M2022.5 668V718M2029.5 674V690M2036.5 677V700M2043.5 677V695M2050.5 667V699M2057.5 687V696M2064.5 687V704M2071.5 591V701M2078.5 521V614M2085.5 496V545M2092.5 502V541M2098.5 513V539M2105.5 477V526M2112.5 478V514M2119.5 498V550M2126.5 491V541M2133.5 492V544M2140.5 508V534M2147.5 525V563M2154.5 522V535M2161.5 514V533M2168.5 506V524M2175.5 519V535M2182.5 520V544M2189.5 522V541M2195.5 468V525M2202.5 468V501M2209.5 477V494" stroke="#737378" stroke-width="1" fill="none"/>
<g fill="#70ab8a" stroke="#1c5a38" stroke-width="1"><rect x="37.5" y="1214.5" width="4" height="8"/><rect x="44.5" y="1199.5" width="4" height="14"/><rect x="51.5" y="1121.5" width="4" height="77"/><rect x="72.5" y="1169.5" width="4" height="25"/><rect x="79.5" y="1136.5" width="4" height="31"/><rect x="86.5" y="1005.5" width="4" height="130"/><rect x="100.5" y="1052.5" width="4" height="11"/><rect x="114.5" y="1069.5" width="4" height="6"/><rect x="134.5" y="1114.5" width="4" height="4"/><rect x="162.5" y="1221.5" width="4" height="19"/><rect x="176.5" y="1262.5" width="4" height="11"/><rect x="183.5" y="1256.5" width="4" height="5"/><rect x="197.5" y="1228.5" width="4" height="73"/><rect x="225.5" y="1235.5" width="4" height="4"/><rect x="231.5" y="1230.5" width="4" height="4"/><rect x="252.5" y="1240.5" width="4" height="9"/><rect x="259.5" y="1174.5" width="4" height="65"/><rect x="266.5" y="1111.5" width="4" height="62"/><rect x="273.5" y="1051.5" width="4" height="59"/><rect x="356.5" y="1184.5" width="4" height="16"/><rect x="363.5" y="1153.5" width="4" height="30"/><rect x="391.5" y="1177.5" width="4" height="2"/><rect x="405.5" y="1174.5" width="4" height="6"/><rect x="433.5" y="1244.5" width="4" height="4"/><rect x="446.5" y="1230.5" width="4" height="23"/><rect x="453.5" y="1212.5" width="4" height="17"/><rect x="474.5" y="1210.5" width="4" height="21"/><rect x="481.5" y="1174.5" width="4" height="35"/><rect x="495.5" y="1174.5" width="4" height="9"/><rect x="516.5" y="1193.5" width="4" height="23"/><rect x="543.5" y="1199.5" width="4" height="19"/><rect x="592.5" y="1184.5" width="4" height="32"/><rect x="606.5" y="1165.5" width="4" height="24"/><rect x="647.5" y="1201.5" width="4" height="6"/><rect x="675.5" y="1210.5" width="4" height="10"/><rect x="682.5" y="1161.5" width="4" height="48"/><rect x="689.5" y="1013.5" width="4" height="147"/><rect x="703.5" y="853.5" width="4" height="167"/><rect x="710.5" y="746.5" width="4" height="106"/><rect x="745.5" y="828.5" width="4" height="13"/><rect x="758.5" y="806.5" width="4" height="21"/><rect x="765.5" y="800.5" width="4" height="5"/><rect x="779.5" y="770.5" width="4" height="52"/><rect x="800.5" y="791.5" width="4" height="16"/><rect x="807.5" y="784.5" width="4" height="6"/><rect x="814.5" y="658.5" width="4" height="125"/><rect x="821.5" y="539.5" width="4" height="118"/><rect x="876.5" y="637.5" width="4" height="63"/><rect x="925.5" y="712.5" width="4" height="1"/><rect x="939.5" y="752.5" width="4" height="9"/><rect x="952.5" y="686.5" width="4" height="82"/><rect x="973.5" y="709.5" width="4" height="2"/><rect x="980.5" y="699.5" width="4" height="9"/><rect x="1001.5" y="737.5" width="4" height="29"/><rect x="1036.5" y="757.5" width="4" height="2"/><rect x="1043.5" y="755.5" width="4" height="1"/><rect x="1056.5" y="749.5" width="4" height="7"/><rect x="1070.5" y="756.5" width="4" height="7"/><rect x="1077.5" y="724.5" width="4" height="31"/><rect x="1091.5" y="709.5" width="4" height="21"/><rect x="1147.5" y="769.5" width="4" height="16"/><rect x="1154.5" y="761.5" width="4" height="7"/><rect x="1174.5" y="792.5" width="4" height="3"/><rect x="1195.5" y="789.5" width="4" height="22"/><rect x="1202.5" y="781.5" width="4" height="7"/><rect x="1209.5" y="763.5" width="4" height="17"/><rect x="1230.5" y="832.5" width="4" height="6"/><rect x="1237.5" y="814.5" width="4" height="17"/><rect x="1244.5" y="810.5" width="4" height="3"/><rect x="1264.5" y="806.5" width="4" height="5"/><rect x="1285.5" y="808.5" width="4" height="13"/><rect x="1292.5" y="765.5" width="4" height="42"/><rect x="1299.5" y="758.5" width="4" height="6"/><rect x="1327.5" y="779.5" width="4" height="5"/><rect x="1348.5" y="714.5" width="4" height="65"/><rect x="1355.5" y="675.5" width="4" height="38"/><rect x="1375.5" y="770.5" width="4" height="22"/><rect x="1382.5" y="702.5" width="4" height="66"/><rect x="1389.5" y="681.5" width="4" height="20"/><rect x="1403.5" y="716.5" width="4" height="5"/><rect x="1410.5" y="691.5" width="4" height="24"/><rect x="1417.5" y="585.5" width="4" height="104"/><rect x="1431.5" y="569.5" width="4" height="45"/><rect x="1445.5" y="626.5" width="4" height="20"/><rect x="1472.5" y="657.5" width="4" height="24"/><rect x="1479.5" y="590.5" width="4" height="66"/><rect x="1507.5" y="605.5" width="4" height="20"/><rect x="1521.5" y="596.5" width="4" height="13"/><rect x="1542.5" y="641.5" width="4" height="3"/><rect x="1549.5" y="638.5" width="4" height="2"/><rect x="1570.5" y="645.5" width="4" height="33"/><rect x="1583.5" y="652.5" width="4" height="5"/><rect x="1590.5" y="637.5" width="4" height="14"/><rect x="1646.5" y="745.5" width="4" height="6"/><rect x="1653.5" y="733.5" width="4" height="11"/><rect x="1674.5" y="741.5" width="4" height="10"/><rect x="1680.5" y="704.5" width="4" height="36"/><rect x="1687.5" y="693.5" width="4" height="10"/><rect x="1715.5" y="730.5" width="4" height="8"/><rect x="1736.5" y="731.5" width="4" height="14"/><rect x="1743.5" y="723.5" width="4" height="7"/><rect x="1771.5" y="713.5" width="4" height="20"/><rect x="1778.5" y="699.5" width="4" height="13"/><rect x="1798.5" y="711.5" width="4" height="1"/><rect x="1805.5" y="692.5" width="4" height="18"/><rect x="1826.5" y="654.5" width="4" height="49"/><rect x="1868.5" y="697.5" width="4" height="3"/><rect x="1875.5" y="695.5" width="4" height="1"/><rect x="1882.5" y="668.5" width="4" height="26"/><rect x="1937.5" y="691.5" width="4" height="3"/><rect x="1944.5" y="678.5" width="4" height="12"/><rect x="1951.5" y="673.5" width="4" height="4"/><rect x="2006.5" y="696.5" width="4" height="10"/><rect x="2013.5" y="679.5" width="4" height="16"/><rect x="2027.5" y="679.5" width="4" height="10"/><rect x="2041.5" y="682.5" width="4" height="11"/><rect x="2055.5" y="690.5" width="4" height="2"/><rect x="2069.5" y="613.5" width="4" height="86"/><rect x="2076.5" y="522.5" width="4" height="90"/><rect x="2083.5" y="516.5" width="4" height="5"/><rect x="2096.5" y="517.5" width="4" height="15"/><rect x="2103.5" y="493.5" width="4" height="23"/><rect x="2117.5" y="502.5" width="4" height="6"/><rect x="2124.5" y="494.5" width="4" height="7"/><rect x="2152.5" y="525.5" width="4" height="6"/><rect x="2159.5" y="519.5" width="4" height="5"/><rect x="2187.5" y="524.5" width="4" height="13"/><rect x="2193.5" y="475.5" width="4" height="48"/><rect x="2207.5" y="485.5" width="4" height="7"/></g>
<g fill="#e05a48" stroke="#5e140c" stroke-width="1"><rect x="30.5" y="1217.5" width="4" height="6"/><rect x="58.5" y="1121.5" width="4" height="47"/><rect x="65.5" y="1169.5" width="4" height="25"/><rect x="93.5" y="1004.5" width="4" height="59"/><rect x="107.5" y="1052.5" width="4" height="23"/><rect x="121.5" y="1069.5" width="4" height="36"/><rect x="127.5" y="1106.5" width="4" height="12"/><rect x="141.5" y="1115.5" width="4" height="44"/><rect x="148.5" y="1160.5" width="4" height="53"/><rect x="155.5" y="1217.5" width="4" height="23"/><rect x="169.5" y="1221.5" width="4" height="52"/><rect x="190.5" y="1256.5" width="4" height="45"/><rect x="204.5" y="1228.5" width="4" height="3"/><rect x="218.5" y="1232.5" width="4" height="7"/><rect x="238.5" y="1230.5" width="4" height="9"/><rect x="245.5" y="1240.5" width="4" height="9"/><rect x="280.5" y="1051.5" width="4" height="30"/><rect x="287.5" y="1082.5" width="4" height="21"/><rect x="294.5" y="1104.5" width="4" height="11"/><rect x="301.5" y="1116.5" width="4" height="1"/><rect x="308.5" y="1119.5" width="4" height="12"/><rect x="315.5" y="1132.5" width="4" height="14"/><rect x="322.5" y="1147.5" width="4" height="27"/><rect x="335.5" y="1174.5" width="4" height="10"/><rect x="342.5" y="1185.5" width="4" height="5"/><rect x="349.5" y="1191.5" width="4" height="9"/><rect x="370.5" y="1153.5" width="4" height="1"/><rect x="377.5" y="1155.5" width="4" height="25"/><rect x="398.5" y="1177.5" width="4" height="3"/><rect x="412.5" y="1174.5" width="4" height="30"/><rect x="419.5" y="1205.5" width="4" height="26"/><rect x="426.5" y="1232.5" width="4" height="16"/><rect x="439.5" y="1244.5" width="4" height="9"/><rect x="460.5" y="1212.5" width="4" height="3"/><rect x="467.5" y="1216.5" width="4" height="15"/><rect x="488.5" y="1174.5" width="4" height="9"/><rect x="502.5" y="1174.5" width="4" height="7"/><rect x="509.5" y="1182.5" width="4" height="34"/><rect x="523.5" y="1193.5" width="4" height="14"/><rect x="530.5" y="1208.5" width="4" height="8"/><rect x="537.5" y="1217.5" width="4" height="1"/><rect x="550.5" y="1199.5" width="4" height="5"/><rect x="564.5" y="1205.5" width="4" height="11"/><rect x="599.5" y="1184.5" width="4" height="5"/><rect x="613.5" y="1165.5" width="4" height="14"/><rect x="620.5" y="1180.5" width="4" height="7"/><rect x="627.5" y="1188.5" width="4" height="17"/><rect x="641.5" y="1206.5" width="4" height="1"/><rect x="654.5" y="1201.5" width="4" height="6"/><rect x="661.5" y="1208.5" width="4" height="1"/><rect x="668.5" y="1210.5" width="4" height="10"/><rect x="696.5" y="1013.5" width="4" height="8"/><rect x="717.5" y="746.5" width="4" height="13"/><rect x="724.5" y="760.5" width="4" height="5"/><rect x="731.5" y="766.5" width="4" height="10"/><rect x="738.5" y="777.5" width="4" height="64"/><rect x="772.5" y="800.5" width="4" height="22"/><rect x="786.5" y="770.5" width="4" height="35"/><rect x="793.5" y="806.5" width="4" height="1"/><rect x="828.5" y="539.5" width="4" height="9"/><rect x="835.5" y="549.5" width="4" height="35"/><rect x="842.5" y="585.5" width="4" height="39"/><rect x="848.5" y="625.5" width="4" height="7"/><rect x="855.5" y="631.5" width="4" height="11"/><rect x="862.5" y="643.5" width="4" height="29"/><rect x="869.5" y="673.5" width="4" height="27"/><rect x="890.5" y="637.5" width="4" height="23"/><rect x="897.5" y="661.5" width="4" height="2"/><rect x="904.5" y="664.5" width="4" height="30"/><rect x="911.5" y="695.5" width="4" height="14"/><rect x="918.5" y="710.5" width="4" height="3"/><rect x="932.5" y="712.5" width="4" height="49"/><rect x="946.5" y="752.5" width="4" height="16"/><rect x="959.5" y="686.5" width="4" height="18"/><rect x="966.5" y="705.5" width="4" height="6"/><rect x="987.5" y="699.5" width="4" height="37"/><rect x="994.5" y="738.5" width="4" height="28"/><rect x="1015.5" y="737.5" width="4" height="16"/><rect x="1022.5" y="754.5" width="4" height="6"/><rect x="1050.5" y="755.5" width="4" height="1"/><rect x="1063.5" y="749.5" width="4" height="14"/><rect x="1084.5" y="724.5" width="4" height="6"/><rect x="1098.5" y="709.5" width="4" height="17"/><rect x="1105.5" y="727.5" width="4" height="21"/><rect x="1112.5" y="749.5" width="4" height="3"/><rect x="1119.5" y="753.5" width="4" height="13"/><rect x="1126.5" y="767.5" width="4" height="10"/><rect x="1140.5" y="778.5" width="4" height="7"/><rect x="1160.5" y="761.5" width="4" height="7"/><rect x="1167.5" y="769.5" width="4" height="26"/><rect x="1181.5" y="792.5" width="4" height="17"/><rect x="1188.5" y="809.5" width="4" height="2"/><rect x="1216.5" y="763.5" width="4" height="29"/><rect x="1223.5" y="793.5" width="4" height="45"/><rect x="1258.5" y="809.5" width="4" height="2"/><rect x="1271.5" y="806.5" width="4" height="9"/><rect x="1278.5" y="816.5" width="4" height="5"/><rect x="1306.5" y="758.5" width="4" height="8"/><rect x="1313.5" y="767.5" width="4" height="17"/><rect x="1362.5" y="675.5" width="4" height="12"/><rect x="1368.5" y="688.5" width="4" height="105"/><rect x="1396.5" y="681.5" width="4" height="40"/><rect x="1424.5" y="584.5" width="4" height="30"/><rect x="1438.5" y="569.5" width="4" height="77"/><rect x="1452.5" y="626.5" width="4" height="23"/><rect x="1459.5" y="650.5" width="4" height="11"/><rect x="1466.5" y="662.5" width="4" height="19"/><rect x="1486.5" y="590.5" width="4" height="13"/><rect x="1493.5" y="604.5" width="4" height="2"/><rect x="1500.5" y="607.5" width="4" height="18"/><rect x="1514.5" y="605.5" width="4" height="4"/><rect x="1528.5" y="596.5" width="4" height="16"/><rect x="1535.5" y="613.5" width="4" height="31"/><rect x="1556.5" y="638.5" width="4" height="11"/><rect x="1563.5" y="650.5" width="4" height="28"/><rect x="1576.5" y="645.5" width="4" height="12"/><rect x="1597.5" y="638.5" width="4" height="14"/><rect x="1604.5" y="653.5" width="4" height="8"/><rect x="1611.5" y="662.5" width="4" height="23"/><rect x="1618.5" y="686.5" width="4" height="34"/><rect x="1625.5" y="721.5" width="4" height="6"/><rect x="1632.5" y="728.5" width="4" height="22"/><rect x="1667.5" y="734.5" width="4" height="17"/><rect x="1694.5" y="693.5" width="4" height="14"/><rect x="1708.5" y="708.5" width="4" height="30"/><rect x="1722.5" y="730.5" width="4" height="11"/><rect x="1729.5" y="742.5" width="4" height="3"/><rect x="1750.5" y="723.5" width="4" height="10"/><rect x="1784.5" y="699.5" width="4" height="9"/><rect x="1791.5" y="709.5" width="4" height="2"/><rect x="1812.5" y="692.5" width="4" height="11"/><rect x="1833.5" y="654.5" width="4" height="6"/><rect x="1840.5" y="661.5" width="4" height="12"/><rect x="1847.5" y="674.5" width="4" height="20"/><rect x="1854.5" y="695.5" width="4" height="5"/><rect x="1888.5" y="668.5" width="4" height="5"/><rect x="1902.5" y="675.5" width="4" height="1"/><rect x="1916.5" y="676.5" width="4" height="7"/><rect x="1923.5" y="684.5" width="4" height="10"/><rect x="1958.5" y="673.5" width="4" height="6"/><rect x="1965.5" y="680.5" width="4" height="14"/><rect x="1979.5" y="695.5" width="4" height="3"/><rect x="1992.5" y="697.5" width="4" height="5"/><rect x="1999.5" y="704.5" width="4" height="3"/><rect x="2020.5" y="679.5" width="4" height="10"/><rect x="2034.5" y="679.5" width="4" height="14"/><rect x="2048.5" y="682.5" width="4" height="10"/><rect x="2062.5" y="690.5" width="4" height="9"/><rect x="2090.5" y="516.5" width="4" height="16"/><rect x="2110.5" y="493.5" width="4" height="15"/><rect x="2131.5" y="493.5" width="4" height="29"/><rect x="2138.5" y="523.5" width="4" height="7"/><rect x="2173.5" y="520.5" width="4" height="3"/><rect x="2180.5" y="524.5" width="4" height="12"/><rect x="2200.5" y="475.5" width="4" height="17"/></g>
<path d="M23.0 1218h5M211.0 1232h5M329.0 1175h5M384.0 1181h5M557.0 1205h5M571.0 1217h5M578.0 1216h5M634.0 1206h5M751.0 828h5M1029.0 760h5M1133.0 778h5M1251.0 809h5M1320.0 785h5M1341.0 780h5M1701.0 708h5M1757.0 733h5M1861.0 701h5M1895.0 674h5M1909.0 676h5M1930.0 695h5M1972.0 695h5M1986.0 698h5" stroke="#1c5a38" stroke-width="1.6" fill="none"/>
<path d="M585.0 1217h5M883.0 637h5M1008.0 736h5M1334.0 780h5M1639.0 751h5M1660.0 733h5M1764.0 733h5M1819.0 704h5M2145.0 532h5M2166.0 519h5" stroke="#5e140c" stroke-width="1.6" fill="none"/>
</g>
<text x="33.1" y="317.3" font-size="21" fill="#4c4c4f" textLength="332.7" lengthAdjust="spacing" stroke="#4c4c4f" stroke-width="0.35">XRP / U.S. Dollar · 2W · BINANCE</text>
<text x="379.6" y="317.3" font-size="21" fill="#4c4c4f" textLength="15.7" lengthAdjust="spacing" stroke="#4c4c4f" stroke-width="0.35">O</text>
<text x="396.6" y="317.3" font-size="21" fill="#1d5f3a" textLength="69.8" lengthAdjust="spacing" stroke="#1d5f3a" stroke-width="0.35">2.9524</text>
<text x="480.7" y="317.3" font-size="21" fill="#4c4c4f" textLength="14.5" lengthAdjust="spacing" stroke="#4c4c4f" stroke-width="0.35">H</text>
<text x="497.0" y="317.3" font-size="21" fill="#1d5f3a" textLength="70.5" lengthAdjust="spacing" stroke="#1d5f3a" stroke-width="0.35">3.3826</text>
<text x="581.4" y="317.3" font-size="21" fill="#4c4c4f" textLength="10.5" lengthAdjust="spacing" stroke="#4c4c4f" stroke-width="0.35">L</text>
<text x="594.0" y="317.3" font-size="21" fill="#1d5f3a" textLength="70.2" lengthAdjust="spacing" stroke="#1d5f3a" stroke-width="0.35">2.9033</text>
<text x="678.7" y="317.3" font-size="21" fill="#4c4c4f" textLength="15.0" lengthAdjust="spacing" stroke="#4c4c4f" stroke-width="0.35">C</text>
<text x="695.5" y="317.3" font-size="21" fill="#1d5f3a" textLength="61.7" lengthAdjust="spacing" stroke="#1d5f3a" stroke-width="0.35">3.1571</text>
<text x="770.9" y="317.3" font-size="21" fill="#1d5f3a" textLength="186.3" lengthAdjust="spacing" stroke="#1d5f3a" stroke-width="0.35">+0.2064 (+6.99%)</text>
<text x="33.1" y="348.1" font-size="21" fill="#4c4c4f" textLength="158.5" lengthAdjust="spacing" stroke="#4c4c4f" stroke-width="0.35">EMA (50, close)</text>
<text x="206.3" y="348.1" font-size="21" fill="#f23645" textLength="68.3" lengthAdjust="spacing" stroke="#f23645" stroke-width="0.35">1.6483</text>
<text x="33.1" y="379.1" font-size="21" fill="#4c4c4f" textLength="171.8" lengthAdjust="spacing" stroke="#4c4c4f" stroke-width="0.35">EMA (200, close)</text>
<text x="220.0" y="379.1" font-size="21" fill="#2222ff" textLength="69.7" lengthAdjust="spacing" stroke="#2222ff" stroke-width="0.35">0.8220</text>
<text x="33.1" y="410.1" font-size="21" fill="#4c4c4f" textLength="90.8" lengthAdjust="spacing" stroke="#4c4c4f" stroke-width="0.35">Vol · XRP</text>
<text x="138.0" y="410.1" font-size="21" fill="#26a69a" textLength="65.4" lengthAdjust="spacing" stroke="#26a69a" stroke-width="0.35">43.5 M</text>
<text x="32.4" y="85.3" font-size="21" fill="#4c4c4f" textLength="143.3" lengthAdjust="spacing" stroke="#4c4c4f" stroke-width="0.35">RSI (14, close)</text>
<text x="190.7" y="85.3" font-size="21" fill="#7e57c2" textLength="55.0" lengthAdjust="spacing" stroke="#7e57c2" stroke-width="0.35">64.41</text>
<text x="259.1" y="85.3" font-size="21" fill="#fdd835" textLength="58.1" lengthAdjust="spacing" stroke="#fdd835" stroke-width="0.35">63.08</text>
<g clip-path="url(#cf)">
<text x="2611.8" y="62.6" font-size="20" fill="#575757" textLength="67.5" lengthAdjust="spacing" stroke="#575757" stroke-width="0.1">100.00</text>
<text x="2610.8" y="122.7" font-size="20" fill="#575757" textLength="54.4" lengthAdjust="spacing" stroke="#575757" stroke-width="0.1">80.00</text>
<text x="2610.8" y="182.6" font-size="20" fill="#575757" textLength="54.4" lengthAdjust="spacing" stroke="#575757" stroke-width="0.1">60.00</text>
<text x="2610.8" y="242.5" font-size="20" fill="#575757" textLength="54.4" lengthAdjust="spacing" stroke="#575757" stroke-width="0.1">40.00</text>
<text x="2610.8" y="345.4" font-size="20" fill="#575757" textLength="77.0" lengthAdjust="spacing" stroke="#575757" stroke-width="0.1">11.0000</text>
<text x="2610.8" y="398.4" font-size="20" fill="#575757" textLength="66.8" lengthAdjust="spacing" stroke="#575757" stroke-width="0.1">7.0000</text>
<text x="2610.8" y="578.4" font-size="20" fill="#575757" textLength="66.8" lengthAdjust="spacing" stroke="#575757" stroke-width="0.1">1.5000</text>
<text x="2610.8" y="638.6" font-size="20" fill="#575757" textLength="66.8" lengthAdjust="spacing" stroke="#575757" stroke-width="0.1">0.9000</text>
<text x="2610.8" y="695.5" font-size="20" fill="#575757" textLength="66.8" lengthAdjust="spacing" stroke="#575757" stroke-width="0.1">0.5500</text>
<text x="2610.8" y="748.2" font-size="20" fill="#575757" textLength="66.8" lengthAdjust="spacing" stroke="#575757" stroke-width="0.1">0.3500</text>
<text x="2610.8" y="808.1" font-size="20" fill="#575757" textLength="66.8" lengthAdjust="spacing" stroke="#575757" stroke-width="0.1">0.2100</text>
<text x="2610.8" y="864.4" font-size="20" fill="#575757" textLength="66.8" lengthAdjust="spacing" stroke="#575757" stroke-width="0.1">0.1300</text>
<text x="2610.8" y="921.6" font-size="20" fill="#575757" textLength="66.8" lengthAdjust="spacing" stroke="#575757" stroke-width="0.1">0.0800</text>
<text x="2610.8" y="975.5" font-size="20" fill="#575757" textLength="66.8" lengthAdjust="spacing" stroke="#575757" stroke-width="0.1">0.0500</text>
<text x="2610.8" y="1035.4" font-size="20" fill="#575757" textLength="66.8" lengthAdjust="spacing" stroke="#575757" stroke-width="0.1">0.0300</text>
<text x="2610.8" y="1094.2" font-size="20" fill="#575757" textLength="66.8" lengthAdjust="spacing" stroke="#575757" stroke-width="0.1">0.0180</text>
<text x="2610.8" y="1152.4" font-size="20" fill="#575757" textLength="66.8" lengthAdjust="spacing" stroke="#575757" stroke-width="0.1">0.0110</text>
<text x="2610.8" y="1204.6" font-size="20" fill="#575757" textLength="66.8" lengthAdjust="spacing" stroke="#575757" stroke-width="0.1">0.0070</text>
<text x="2610.8" y="1255.5" font-size="20" fill="#575757" textLength="66.8" lengthAdjust="spacing" stroke="#575757" stroke-width="0.1">0.0045</text>
<text x="2610.8" y="1313.5" font-size="20" fill="#575757" textLength="66.8" lengthAdjust="spacing" stroke="#575757" stroke-width="0.1">0.0027</text>
<text x="2610.8" y="1364.5" font-size="20" fill="#575757" textLength="66.8" lengthAdjust="spacing" stroke="#575757" stroke-width="0.1">0.0017</text>
</g>
<text x="109.6" y="1432.0" font-size="20" fill="#575757" textLength="53.6" lengthAdjust="spacingAndGlyphs" font-weight="bold" text-anchor="middle" letter-spacing="1.28">2014</text>
<text x="198.8" y="1432.0" font-size="20" fill="#575757" textLength="26.7" lengthAdjust="spacing" text-anchor="middle" stroke="#575757" stroke-width="0.1">Jul</text>
<text x="289.6" y="1432.0" font-size="20" fill="#575757" textLength="53.6" lengthAdjust="spacingAndGlyphs" font-weight="bold" text-anchor="middle" letter-spacing="1.28">2015</text>
<text x="378.8" y="1432.0" font-size="20" fill="#575757" textLength="26.7" lengthAdjust="spacing" text-anchor="middle" stroke="#575757" stroke-width="0.1">Jul</text>
<text x="469.6" y="1432.0" font-size="20" fill="#575757" textLength="53.6" lengthAdjust="spacingAndGlyphs" font-weight="bold" text-anchor="middle" letter-spacing="1.28">2016</text>
<text x="558.8" y="1432.0" font-size="20" fill="#575757" textLength="26.7" lengthAdjust="spacing" text-anchor="middle" stroke="#575757" stroke-width="0.1">Jul</text>
<text x="649.6" y="1432.0" font-size="20" fill="#575757" textLength="53.6" lengthAdjust="spacingAndGlyphs" font-weight="bold" text-anchor="middle" letter-spacing="1.28">2017</text>
<text x="739.8" y="1432.0" font-size="20" fill="#575757" textLength="26.7" lengthAdjust="spacing" text-anchor="middle" stroke="#575757" stroke-width="0.1">Jul</text>
<text x="830.6" y="1432.0" font-size="20" fill="#575757" textLength="53.6" lengthAdjust="spacingAndGlyphs" font-weight="bold" text-anchor="middle" letter-spacing="1.28">2018</text>
<text x="919.8" y="1432.0" font-size="20" fill="#575757" textLength="26.7" lengthAdjust="spacing" text-anchor="middle" stroke="#575757" stroke-width="0.1">Jul</text>
<text x="1017.6" y="1432.0" font-size="20" fill="#575757" textLength="53.6" lengthAdjust="spacingAndGlyphs" font-weight="bold" text-anchor="middle" letter-spacing="1.28">2019</text>
<text x="1106.8" y="1432.0" font-size="20" fill="#575757" textLength="26.7" lengthAdjust="spacing" text-anchor="middle" stroke="#575757" stroke-width="0.1">Jul</text>
<text x="1197.6" y="1432.0" font-size="20" fill="#575757" textLength="53.6" lengthAdjust="spacingAndGlyphs" font-weight="bold" text-anchor="middle" letter-spacing="1.28">2020</text>
<text x="1286.8" y="1432.0" font-size="20" fill="#575757" textLength="26.7" lengthAdjust="spacing" text-anchor="middle" stroke="#575757" stroke-width="0.1">Jul</text>
<text x="1377.6" y="1432.0" font-size="20" fill="#575757" textLength="53.6" lengthAdjust="spacingAndGlyphs" font-weight="bold" text-anchor="middle" letter-spacing="1.28">2021</text>
<text x="1467.8" y="1432.0" font-size="20" fill="#575757" textLength="26.7" lengthAdjust="spacing" text-anchor="middle" stroke="#575757" stroke-width="0.1">Jul</text>
<text x="1558.6" y="1432.0" font-size="20" fill="#575757" textLength="53.6" lengthAdjust="spacingAndGlyphs" font-weight="bold" text-anchor="middle" letter-spacing="1.28">2022</text>
<text x="1647.8" y="1432.0" font-size="20" fill="#575757" textLength="26.7" lengthAdjust="spacing" text-anchor="middle" stroke="#575757" stroke-width="0.1">Jul</text>
<text x="1738.6" y="1432.0" font-size="20" fill="#575757" textLength="53.6" lengthAdjust="spacingAndGlyphs" font-weight="bold" text-anchor="middle" letter-spacing="1.28">2023</text>
<text x="1827.8" y="1432.0" font-size="20" fill="#575757" textLength="26.7" lengthAdjust="spacing" text-anchor="middle" stroke="#575757" stroke-width="0.1">Jul</text>
<text x="1918.6" y="1432.0" font-size="20" fill="#575757" textLength="53.6" lengthAdjust="spacingAndGlyphs" font-weight="bold" text-anchor="middle" letter-spacing="1.28">2024</text>
<text x="2007.8" y="1432.0" font-size="20" fill="#575757" textLength="26.7" lengthAdjust="spacing" text-anchor="middle" stroke="#575757" stroke-width="0.1">Jul</text>
<text x="2105.6" y="1432.0" font-size="20" fill="#575757" textLength="53.6" lengthAdjust="spacingAndGlyphs" font-weight="bold" text-anchor="middle" letter-spacing="1.28">2025</text>
<text x="2194.8" y="1432.0" font-size="20" fill="#575757" textLength="26.7" lengthAdjust="spacing" text-anchor="middle" stroke="#575757" stroke-width="0.1">Jul</text>
<text x="2286.6" y="1432.0" font-size="20" fill="#575757" textLength="53.6" lengthAdjust="spacingAndGlyphs" font-weight="bold" text-anchor="middle" letter-spacing="1.28">2026</text>
<text x="2375.8" y="1432.0" font-size="20" fill="#575757" textLength="26.7" lengthAdjust="spacing" text-anchor="middle" stroke="#575757" stroke-width="0.1">Jul</text>
<text x="2466.6" y="1432.0" font-size="20" fill="#575757" textLength="53.6" lengthAdjust="spacingAndGlyphs" font-weight="bold" text-anchor="middle" letter-spacing="1.28">2027</text>
<text x="2555.8" y="1432.0" font-size="20" fill="#575757" textLength="26.7" lengthAdjust="spacing" text-anchor="middle" stroke="#575757" stroke-width="0.1">Jul</text>
<g stroke="#40434a" stroke-width="1" shape-rendering="crispEdges">
<line x1="18.4" y1="280.5" x2="2708.5" y2="280.5"/>
<line x1="18.4" y1="1400.5" x2="2708.5" y2="1400.5"/>
<line x1="2594.5" y1="49.5" x2="2594.5" y2="1449.6"/>
</g>
<rect x="2595.5" y="281.5" width="113" height="58.5" fill="#f3e0d0"/>
<rect x="2601.1" y="288.1" width="102" height="45.7" rx="7.5" fill="#fff"/>
<text x="2617.7" y="317.9" font-size="22" fill="#131722" textLength="43.9" lengthAdjust="spacing" stroke="#131722" stroke-width="0.35">USD</text>
<path d="M2595 432.1H2683.2a4 4 0 0 1 4 4V456.8a4 4 0 0 1 -4 4H2595Z" fill="#000"/>
<text x="2611.1" y="453.1" font-size="20" fill="#fff" textLength="67.0" lengthAdjust="spacing" stroke="#fff" stroke-width="0.1">4.4188</text>
<path d="M2502.2 471.1H2595V500H2502.2a4 4 0 0 1 -4 -4V475.1a4 4 0 0 1 4 -4Z" fill="#6da683"/>
<path d="M2595 471.1H2683.2a4 4 0 0 1 4 4V518.6a4 4 0 0 1 -4 4H2595Z" fill="#6da683"/>
<line x1="2594.5" y1="470" x2="2594.5" y2="523" stroke="#40434a" stroke-width="1" shape-rendering="crispEdges"/>
<text x="2506.7" y="491.8" font-size="19.5" fill="#fff" textLength="78.8" lengthAdjust="spacing" stroke="#fff" stroke-width="0.1">XRPUSD</text>
<text x="2611.3" y="492.1" font-size="20" fill="#fff" textLength="66.0" lengthAdjust="spacing" stroke="#fff" stroke-width="0.1">3.1571</text>
<text x="2611.3" y="514.8" font-size="20" fill="#fff" textLength="66.0" lengthAdjust="spacing" fill-opacity="0.75">5d 17h</text>
<text x="18.6" y="36.3" font-size="22.5" fill="#e4e4e4" textLength="701.5" lengthAdjust="spacing" stroke="#e4e4e4" stroke-width="0.35">bitcoinwallah created with TradingView.com, Aug 12, 2025 07:15 UTC</text>
<g fill="#d9d9d9">
<path d="M21 1489.8H43.3V1516.4H32.2V1500.7H21Z"/>
<circle cx="52.7" cy="1495.1" r="5.4"/>
<path d="M64 1489.8H75.3L65.2 1516.4H52.7Z"/>
</g>
<text x="88.2" y="1516.4" font-size="37.6" fill="#d9d9d9" textLength="218.1" lengthAdjust="spacing" font-weight="bold">TradingView</text>
</svg>
</body></html>
